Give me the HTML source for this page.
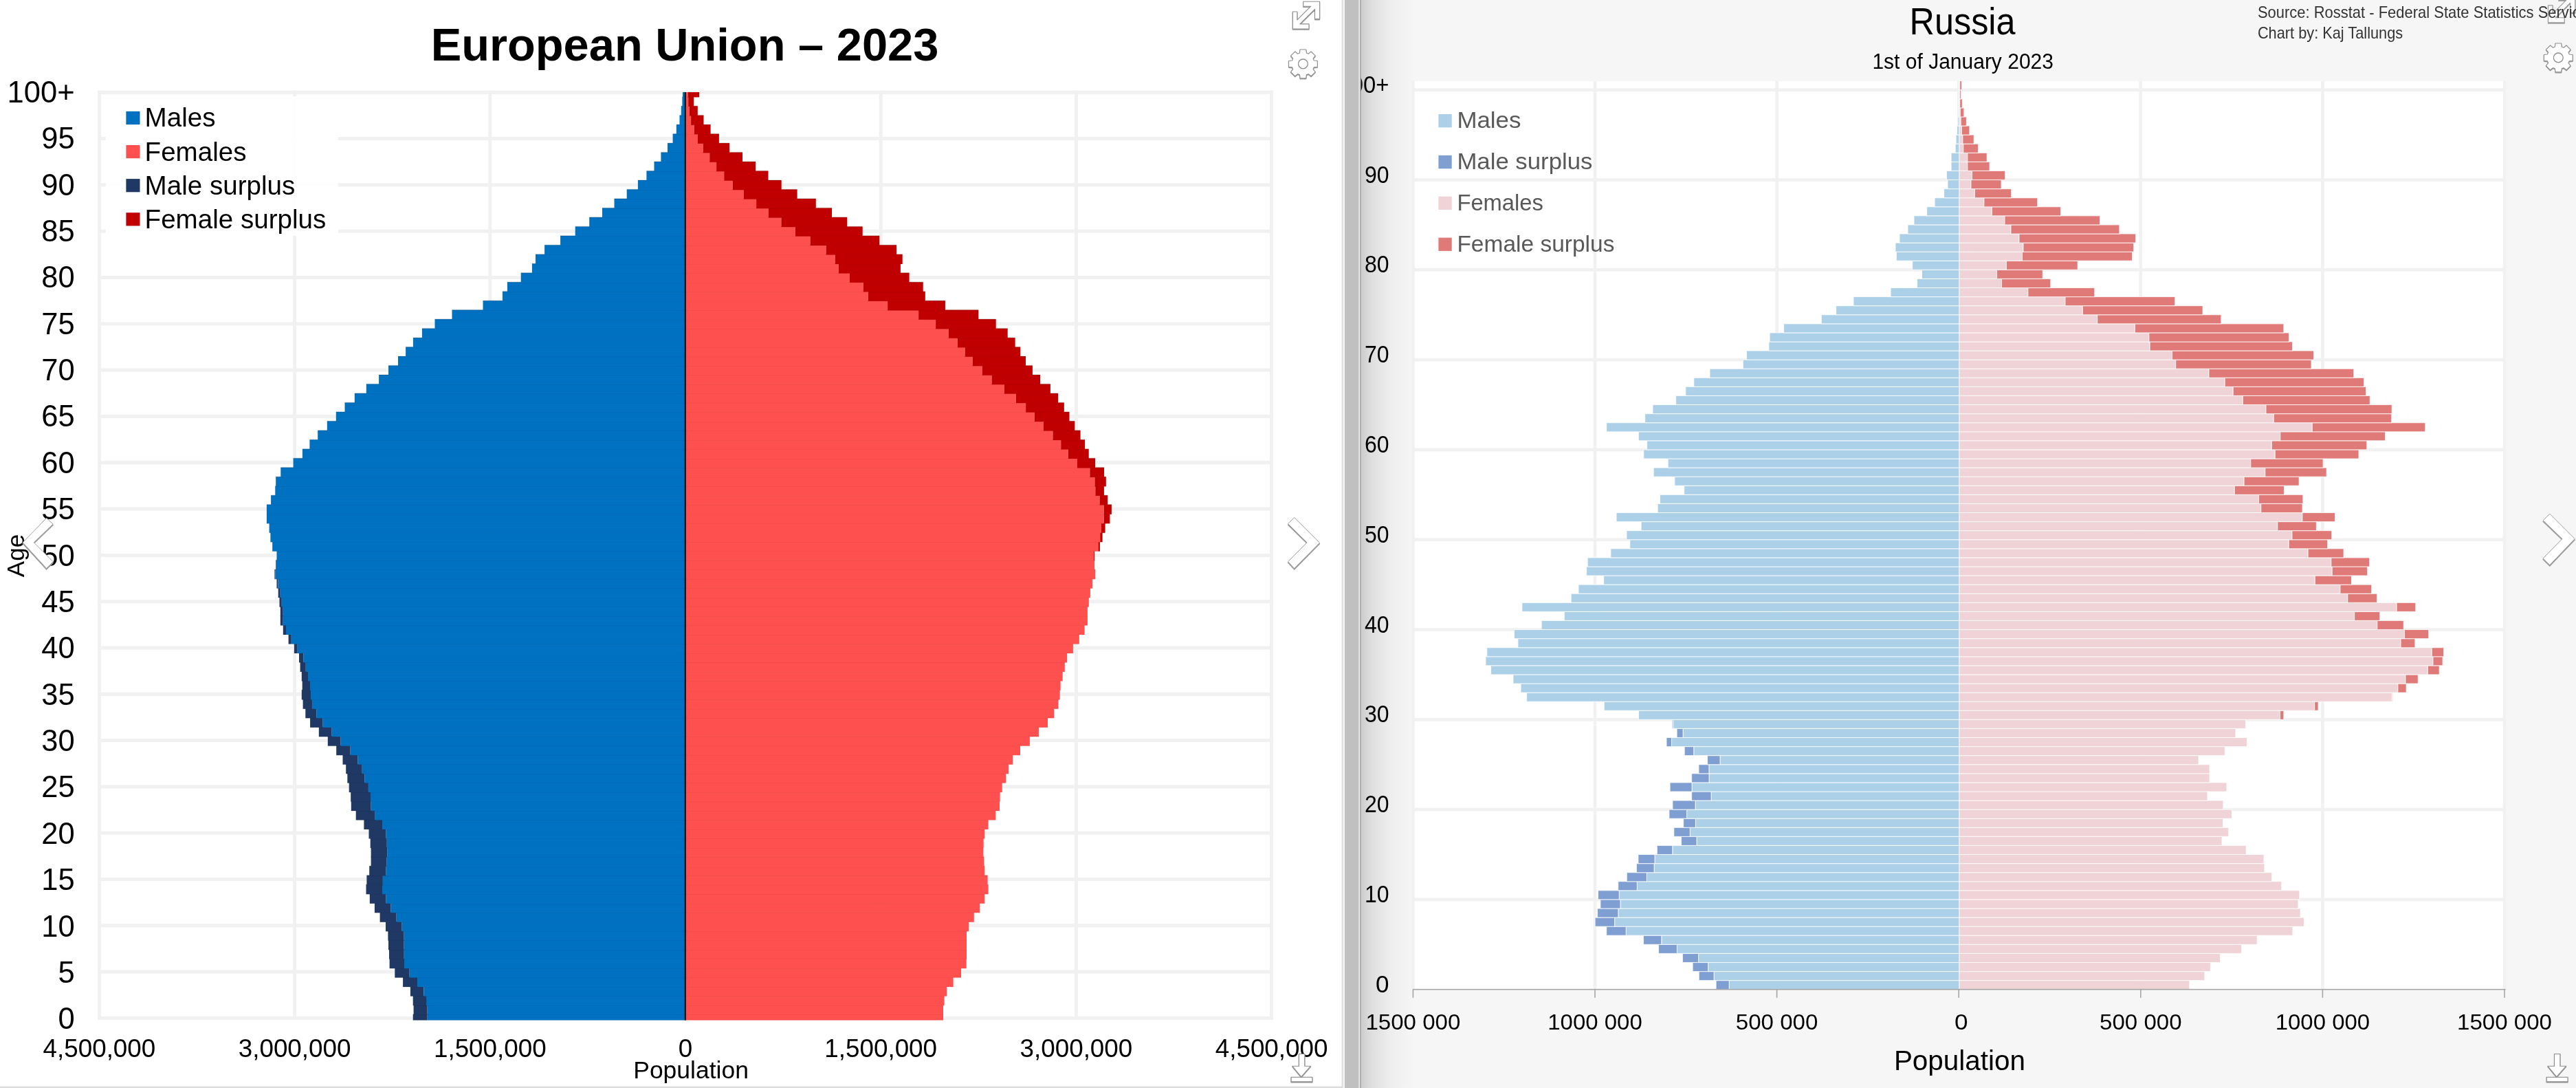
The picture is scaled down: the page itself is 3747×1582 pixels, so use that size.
<!DOCTYPE html>
<html><head><meta charset="utf-8"><style>
html,body{margin:0;padding:0;background:#fff;width:3747px;height:1582px;overflow:hidden}
svg{display:block;will-change:transform}
svg{fill:#000}
text{font-family:"Liberation Sans",sans-serif}
</style></head><body>
<svg width="3747" height="1582" viewBox="0 0 3747 1582"><defs><clipPath id="ruclip"><rect x="1978" y="0" width="1769" height="1582"/></clipPath><linearGradient id="shade" x1="0" x2="1" y1="0" y2="0"><stop offset="0" stop-color="#cbcbcb"/><stop offset="0.2" stop-color="#dedede"/><stop offset="0.55" stop-color="#eeeeee"/><stop offset="1" stop-color="#f6f6f6"/></linearGradient></defs><rect x="0" y="0" width="1953" height="1582" fill="#ffffff"/><rect x="141.9" y="1477.9" width="1710.2" height="5" fill="#f1f1f1"/><rect x="141.9" y="1410.6" width="1710.2" height="5" fill="#f1f1f1"/><rect x="141.9" y="1343.3" width="1710.2" height="5" fill="#f1f1f1"/><rect x="141.9" y="1276" width="1710.2" height="5" fill="#f1f1f1"/><rect x="141.9" y="1208.7" width="1710.2" height="5" fill="#f1f1f1"/><rect x="141.9" y="1141.4" width="1710.2" height="5" fill="#f1f1f1"/><rect x="141.9" y="1074.1" width="1710.2" height="5" fill="#f1f1f1"/><rect x="141.9" y="1006.8" width="1710.2" height="5" fill="#f1f1f1"/><rect x="141.9" y="939.5" width="1710.2" height="5" fill="#f1f1f1"/><rect x="141.9" y="872.2" width="1710.2" height="5" fill="#f1f1f1"/><rect x="141.9" y="804.9" width="1710.2" height="5" fill="#f1f1f1"/><rect x="141.9" y="737.5" width="1710.2" height="5" fill="#f1f1f1"/><rect x="141.9" y="670.2" width="1710.2" height="5" fill="#f1f1f1"/><rect x="141.9" y="602.9" width="1710.2" height="5" fill="#f1f1f1"/><rect x="141.9" y="535.6" width="1710.2" height="5" fill="#f1f1f1"/><rect x="141.9" y="468.3" width="1710.2" height="5" fill="#f1f1f1"/><rect x="141.9" y="401" width="1710.2" height="5" fill="#f1f1f1"/><rect x="141.9" y="333.7" width="1710.2" height="5" fill="#f1f1f1"/><rect x="141.9" y="266.4" width="1710.2" height="5" fill="#f1f1f1"/><rect x="141.9" y="199.1" width="1710.2" height="5" fill="#f1f1f1"/><rect x="141.9" y="131.8" width="1710.2" height="5" fill="#f1f1f1"/><rect x="141.9" y="131.5" width="5" height="1351" fill="#f1f1f1"/><rect x="426.1" y="131.5" width="5" height="1351" fill="#f1f1f1"/><rect x="710.3" y="131.5" width="5" height="1351" fill="#f1f1f1"/><rect x="994.5" y="131.5" width="5" height="1351" fill="#f1f1f1"/><rect x="1278.7" y="131.5" width="5" height="1351" fill="#f1f1f1"/><rect x="1562.9" y="131.5" width="5" height="1351" fill="#f1f1f1"/><rect x="1847.1" y="131.5" width="5" height="1351" fill="#f1f1f1"/><rect x="621.6" y="1474.8" width="375.2" height="8.7" fill="#0070c0"/><rect x="996.8" y="1474.8" width="375.2" height="8.7" fill="#ff5050"/><rect x="600.7" y="1474.8" width="20.9" height="8.7" fill="#1f3864"/><rect x="600.7" y="1473.9" width="771.4" height="2" fill="#000" opacity="0.11"/><rect x="621.6" y="1461.3" width="375.2" height="14.2" fill="#0070c0"/><rect x="996.8" y="1461.3" width="375.2" height="14.2" fill="#ff5050"/><rect x="601.6" y="1461.3" width="20" height="14.2" fill="#1f3864"/><rect x="601.6" y="1460.4" width="770.5" height="2" fill="#000" opacity="0.11"/><rect x="620" y="1447.9" width="376.8" height="14.2" fill="#0070c0"/><rect x="996.8" y="1447.9" width="376.8" height="14.2" fill="#ff5050"/><rect x="600.7" y="1447.9" width="19.4" height="14.2" fill="#1f3864"/><rect x="600.7" y="1446.9" width="772.9" height="2" fill="#000" opacity="0.11"/><rect x="616.4" y="1434.4" width="380.4" height="14.2" fill="#0070c0"/><rect x="996.8" y="1434.4" width="380.4" height="14.2" fill="#ff5050"/><rect x="596.9" y="1434.4" width="19.4" height="14.2" fill="#1f3864"/><rect x="596.9" y="1433.4" width="780.3" height="2" fill="#000" opacity="0.11"/><rect x="607" y="1420.9" width="389.8" height="14.2" fill="#0070c0"/><rect x="996.8" y="1420.9" width="389.8" height="14.2" fill="#ff5050"/><rect x="586.1" y="1420.9" width="20.9" height="14.2" fill="#1f3864"/><rect x="586.1" y="1420" width="800.5" height="2" fill="#000" opacity="0.11"/><rect x="595.6" y="1407.4" width="401.2" height="14.2" fill="#0070c0"/><rect x="996.8" y="1407.4" width="401.2" height="14.2" fill="#ff5050"/><rect x="574.3" y="1407.4" width="21.3" height="14.2" fill="#1f3864"/><rect x="574.3" y="1406.5" width="823.6" height="2" fill="#000" opacity="0.11"/><rect x="587.9" y="1394" width="408.9" height="14.2" fill="#0070c0"/><rect x="996.8" y="1394" width="408.9" height="14.2" fill="#ff5050"/><rect x="566.6" y="1394" width="21.4" height="14.2" fill="#1f3864"/><rect x="566.6" y="1393" width="839.1" height="2" fill="#000" opacity="0.11"/><rect x="587.6" y="1380.5" width="409.2" height="14.2" fill="#0070c0"/><rect x="996.8" y="1380.5" width="409.2" height="14.2" fill="#ff5050"/><rect x="566" y="1380.5" width="21.7" height="14.2" fill="#1f3864"/><rect x="566" y="1379.5" width="840" height="2" fill="#000" opacity="0.11"/><rect x="587.6" y="1367" width="409.2" height="14.2" fill="#0070c0"/><rect x="996.8" y="1367" width="409.2" height="14.2" fill="#ff5050"/><rect x="565" y="1367" width="22.6" height="14.2" fill="#1f3864"/><rect x="565" y="1366.1" width="840.9" height="2" fill="#000" opacity="0.11"/><rect x="587.6" y="1353.5" width="409.2" height="14.2" fill="#0070c0"/><rect x="996.8" y="1353.5" width="409.2" height="14.2" fill="#ff5050"/><rect x="564.4" y="1353.5" width="23.2" height="14.2" fill="#1f3864"/><rect x="564.4" y="1352.6" width="841.5" height="2" fill="#000" opacity="0.11"/><rect x="584.5" y="1340.1" width="412.3" height="14.2" fill="#0070c0"/><rect x="996.8" y="1340.1" width="412.3" height="14.2" fill="#ff5050"/><rect x="561" y="1340.1" width="23.5" height="14.2" fill="#1f3864"/><rect x="561" y="1339.1" width="848.1" height="2" fill="#000" opacity="0.11"/><rect x="576.8" y="1326.6" width="420" height="14.2" fill="#0070c0"/><rect x="996.8" y="1326.6" width="420" height="14.2" fill="#ff5050"/><rect x="552.6" y="1326.6" width="24.1" height="14.2" fill="#1f3864"/><rect x="552.6" y="1325.6" width="864.2" height="2" fill="#000" opacity="0.11"/><rect x="568.4" y="1313.1" width="428.4" height="14.2" fill="#0070c0"/><rect x="996.8" y="1313.1" width="428.4" height="14.2" fill="#ff5050"/><rect x="544.9" y="1313.1" width="23.5" height="14.2" fill="#1f3864"/><rect x="544.9" y="1312.2" width="880.3" height="2" fill="#000" opacity="0.11"/><rect x="561.3" y="1299.6" width="435.5" height="14.2" fill="#0070c0"/><rect x="996.8" y="1299.6" width="435.5" height="14.2" fill="#ff5050"/><rect x="537.8" y="1299.6" width="23.5" height="14.2" fill="#1f3864"/><rect x="537.8" y="1298.7" width="894.5" height="2" fill="#000" opacity="0.11"/><rect x="556" y="1286.1" width="440.8" height="14.2" fill="#0070c0"/><rect x="996.8" y="1286.1" width="440.8" height="14.2" fill="#ff5050"/><rect x="532.5" y="1286.1" width="23.5" height="14.2" fill="#1f3864"/><rect x="532.5" y="1285.2" width="905" height="2" fill="#000" opacity="0.11"/><rect x="557" y="1272.7" width="439.8" height="14.2" fill="#0070c0"/><rect x="996.8" y="1272.7" width="439.8" height="14.2" fill="#ff5050"/><rect x="533.4" y="1272.7" width="23.5" height="14.2" fill="#1f3864"/><rect x="533.4" y="1271.7" width="903.2" height="2" fill="#000" opacity="0.11"/><rect x="561.3" y="1259.2" width="435.5" height="14.2" fill="#0070c0"/><rect x="996.8" y="1259.2" width="435.5" height="14.2" fill="#ff5050"/><rect x="537.2" y="1259.2" width="24.1" height="14.2" fill="#1f3864"/><rect x="537.2" y="1258.2" width="895.1" height="2" fill="#000" opacity="0.11"/><rect x="562.2" y="1245.7" width="434.6" height="14.2" fill="#0070c0"/><rect x="996.8" y="1245.7" width="434.6" height="14.2" fill="#ff5050"/><rect x="539.6" y="1245.7" width="22.6" height="14.2" fill="#1f3864"/><rect x="539.6" y="1244.8" width="891.7" height="2" fill="#000" opacity="0.11"/><rect x="563.2" y="1232.2" width="433.6" height="14.2" fill="#0070c0"/><rect x="996.8" y="1232.2" width="433.6" height="14.2" fill="#ff5050"/><rect x="539.6" y="1232.2" width="23.5" height="14.2" fill="#1f3864"/><rect x="539.6" y="1231.3" width="890.8" height="2" fill="#000" opacity="0.11"/><rect x="562.9" y="1218.8" width="433.9" height="14.2" fill="#0070c0"/><rect x="996.8" y="1218.8" width="433.9" height="14.2" fill="#ff5050"/><rect x="538.7" y="1218.8" width="24.1" height="14.2" fill="#1f3864"/><rect x="538.7" y="1217.8" width="892" height="2" fill="#000" opacity="0.11"/><rect x="561.3" y="1205.3" width="435.5" height="14.2" fill="#0070c0"/><rect x="996.8" y="1205.3" width="435.5" height="14.2" fill="#ff5050"/><rect x="536.5" y="1205.3" width="24.8" height="14.2" fill="#1f3864"/><rect x="536.5" y="1204.3" width="895.7" height="2" fill="#000" opacity="0.11"/><rect x="556" y="1191.8" width="440.8" height="14.2" fill="#0070c0"/><rect x="996.8" y="1191.8" width="440.8" height="14.2" fill="#ff5050"/><rect x="529.4" y="1191.8" width="26.6" height="14.2" fill="#1f3864"/><rect x="529.4" y="1190.9" width="908.1" height="2" fill="#000" opacity="0.11"/><rect x="545.2" y="1178.3" width="451.6" height="14.2" fill="#0070c0"/><rect x="996.8" y="1178.3" width="451.6" height="14.2" fill="#ff5050"/><rect x="517.7" y="1178.3" width="27.6" height="14.2" fill="#1f3864"/><rect x="517.7" y="1177.4" width="930.7" height="2" fill="#000" opacity="0.11"/><rect x="539.6" y="1164.9" width="457.2" height="14.2" fill="#0070c0"/><rect x="996.8" y="1164.9" width="457.2" height="14.2" fill="#ff5050"/><rect x="510.8" y="1164.9" width="28.8" height="14.2" fill="#1f3864"/><rect x="510.8" y="1163.9" width="943.1" height="2" fill="#000" opacity="0.11"/><rect x="539" y="1151.4" width="457.8" height="14.2" fill="#0070c0"/><rect x="996.8" y="1151.4" width="457.8" height="14.2" fill="#ff5050"/><rect x="510.2" y="1151.4" width="28.8" height="14.2" fill="#1f3864"/><rect x="510.2" y="1150.4" width="944.4" height="2" fill="#000" opacity="0.11"/><rect x="535.9" y="1137.9" width="460.9" height="14.2" fill="#0070c0"/><rect x="996.8" y="1137.9" width="460.9" height="14.2" fill="#ff5050"/><rect x="507.7" y="1137.9" width="28.2" height="14.2" fill="#1f3864"/><rect x="507.7" y="1137" width="949.9" height="2" fill="#000" opacity="0.11"/><rect x="530.3" y="1124.4" width="466.5" height="14.2" fill="#0070c0"/><rect x="996.8" y="1124.4" width="466.5" height="14.2" fill="#ff5050"/><rect x="505.3" y="1124.4" width="25" height="14.2" fill="#1f3864"/><rect x="505.3" y="1123.5" width="957.9" height="2" fill="#000" opacity="0.11"/><rect x="526.6" y="1111" width="470.2" height="14.2" fill="#0070c0"/><rect x="996.8" y="1111" width="470.2" height="14.2" fill="#ff5050"/><rect x="503.2" y="1111" width="23.5" height="14.2" fill="#1f3864"/><rect x="503.2" y="1110" width="963.8" height="2" fill="#000" opacity="0.11"/><rect x="520.4" y="1097.5" width="476.4" height="14.2" fill="#0070c0"/><rect x="996.8" y="1097.5" width="476.4" height="14.2" fill="#ff5050"/><rect x="498.5" y="1097.5" width="21.9" height="14.2" fill="#1f3864"/><rect x="498.5" y="1096.5" width="974.6" height="2" fill="#000" opacity="0.11"/><rect x="509.6" y="1084" width="487.2" height="14.2" fill="#0070c0"/><rect x="996.8" y="1084" width="487.2" height="14.2" fill="#ff5050"/><rect x="489.2" y="1084" width="20.4" height="14.2" fill="#1f3864"/><rect x="489.2" y="1083.1" width="994.8" height="2" fill="#000" opacity="0.11"/><rect x="495.7" y="1070.5" width="501.1" height="14.2" fill="#0070c0"/><rect x="996.8" y="1070.5" width="501.1" height="14.2" fill="#ff5050"/><rect x="476.8" y="1070.5" width="18.8" height="14.2" fill="#1f3864"/><rect x="476.8" y="1069.6" width="1021.1" height="2" fill="#000" opacity="0.11"/><rect x="482.6" y="1057.1" width="514.2" height="14.2" fill="#0070c0"/><rect x="996.8" y="1057.1" width="514.2" height="14.2" fill="#ff5050"/><rect x="463.8" y="1057.1" width="18.8" height="14.2" fill="#1f3864"/><rect x="463.8" y="1056.1" width="1047.2" height="2" fill="#000" opacity="0.11"/><rect x="469.6" y="1043.6" width="527.2" height="14.2" fill="#0070c0"/><rect x="996.8" y="1043.6" width="527.2" height="14.2" fill="#ff5050"/><rect x="451.1" y="1043.6" width="18.5" height="14.2" fill="#1f3864"/><rect x="451.1" y="1042.6" width="1072.9" height="2" fill="#000" opacity="0.11"/><rect x="460.3" y="1030.1" width="536.5" height="14.2" fill="#0070c0"/><rect x="996.8" y="1030.1" width="536.5" height="14.2" fill="#ff5050"/><rect x="444.3" y="1030.1" width="16" height="14.2" fill="#1f3864"/><rect x="444.3" y="1029.2" width="1089" height="2" fill="#000" opacity="0.11"/><rect x="454.1" y="1016.6" width="542.7" height="14.2" fill="#0070c0"/><rect x="996.8" y="1016.6" width="542.7" height="14.2" fill="#ff5050"/><rect x="440.6" y="1016.6" width="13.5" height="14.2" fill="#1f3864"/><rect x="440.6" y="1015.7" width="1098.9" height="2" fill="#000" opacity="0.11"/><rect x="451.9" y="1003.2" width="544.9" height="14.2" fill="#0070c0"/><rect x="996.8" y="1003.2" width="544.9" height="14.2" fill="#ff5050"/><rect x="438.8" y="1003.2" width="13.2" height="14.2" fill="#1f3864"/><rect x="438.8" y="1002.2" width="1102.9" height="2" fill="#000" opacity="0.11"/><rect x="451" y="989.7" width="545.8" height="14.2" fill="#0070c0"/><rect x="996.8" y="989.7" width="545.8" height="14.2" fill="#ff5050"/><rect x="439.7" y="989.7" width="11.3" height="14.2" fill="#1f3864"/><rect x="439.7" y="988.7" width="1102.9" height="2" fill="#000" opacity="0.11"/><rect x="447.9" y="976.2" width="548.9" height="14.2" fill="#0070c0"/><rect x="996.8" y="976.2" width="548.9" height="14.2" fill="#ff5050"/><rect x="438.8" y="976.2" width="9.2" height="14.2" fill="#1f3864"/><rect x="438.8" y="975.2" width="1106.9" height="2" fill="#000" opacity="0.11"/><rect x="444.8" y="962.7" width="552" height="14.2" fill="#0070c0"/><rect x="996.8" y="962.7" width="552" height="14.2" fill="#ff5050"/><rect x="436.6" y="962.7" width="8.2" height="14.2" fill="#1f3864"/><rect x="436.6" y="961.8" width="1112.2" height="2" fill="#000" opacity="0.11"/><rect x="441.4" y="949.2" width="555.4" height="14.2" fill="#0070c0"/><rect x="996.8" y="949.2" width="555.4" height="14.2" fill="#ff5050"/><rect x="435" y="949.2" width="6.4" height="14.2" fill="#1f3864"/><rect x="435" y="948.3" width="1117.2" height="2" fill="#000" opacity="0.11"/><rect x="432.7" y="935.8" width="564.1" height="14.2" fill="#0070c0"/><rect x="996.8" y="935.8" width="564.1" height="14.2" fill="#ff5050"/><rect x="427.9" y="935.8" width="4.8" height="14.2" fill="#1f3864"/><rect x="427.9" y="934.8" width="1132.9" height="2" fill="#000" opacity="0.11"/><rect x="423.8" y="922.3" width="573" height="14.2" fill="#0070c0"/><rect x="996.8" y="922.3" width="573" height="14.2" fill="#ff5050"/><rect x="419.6" y="922.3" width="4.2" height="14.2" fill="#1f3864"/><rect x="419.6" y="921.3" width="1150.3" height="2" fill="#000" opacity="0.11"/><rect x="416" y="908.8" width="580.8" height="14.2" fill="#0070c0"/><rect x="996.8" y="908.8" width="580.8" height="14.2" fill="#ff5050"/><rect x="411.8" y="908.8" width="4.2" height="14.2" fill="#1f3864"/><rect x="411.8" y="907.9" width="1165.8" height="2" fill="#000" opacity="0.11"/><rect x="411.7" y="895.3" width="585.1" height="14.2" fill="#0070c0"/><rect x="996.8" y="895.3" width="585.1" height="14.2" fill="#ff5050"/><rect x="407.8" y="895.3" width="3.9" height="14.2" fill="#1f3864"/><rect x="407.8" y="894.4" width="1174.1" height="2" fill="#000" opacity="0.11"/><rect x="411.7" y="881.9" width="585.1" height="14.2" fill="#0070c0"/><rect x="996.8" y="881.9" width="585.1" height="14.2" fill="#ff5050"/><rect x="407.8" y="881.9" width="3.9" height="14.2" fill="#1f3864"/><rect x="407.8" y="880.9" width="1174.1" height="2" fill="#000" opacity="0.11"/><rect x="409.8" y="868.4" width="587" height="14.2" fill="#0070c0"/><rect x="996.8" y="868.4" width="587" height="14.2" fill="#ff5050"/><rect x="406.5" y="868.4" width="3.3" height="14.2" fill="#1f3864"/><rect x="406.5" y="867.4" width="1177.2" height="2" fill="#000" opacity="0.11"/><rect x="407.7" y="854.9" width="589.1" height="14.2" fill="#0070c0"/><rect x="996.8" y="854.9" width="589.1" height="14.2" fill="#ff5050"/><rect x="404.7" y="854.9" width="3" height="14.2" fill="#1f3864"/><rect x="404.7" y="854" width="1181.3" height="2" fill="#000" opacity="0.11"/><rect x="404.6" y="841.4" width="592.2" height="14.2" fill="#0070c0"/><rect x="996.8" y="841.4" width="592.2" height="14.2" fill="#ff5050"/><rect x="402.5" y="841.4" width="2" height="14.2" fill="#1f3864"/><rect x="402.5" y="840.5" width="1186.5" height="2" fill="#000" opacity="0.11"/><rect x="400.5" y="828" width="596.3" height="14.2" fill="#0070c0"/><rect x="996.8" y="828" width="596.3" height="14.2" fill="#ff5050"/><rect x="399.4" y="828" width="1.1" height="14.2" fill="#1f3864"/><rect x="399.4" y="827" width="1193.6" height="2" fill="#000" opacity="0.11"/><rect x="401.5" y="814.5" width="595.3" height="14.2" fill="#0070c0"/><rect x="996.8" y="814.5" width="595.3" height="14.2" fill="#ff5050"/><rect x="401" y="814.5" width="0.5" height="14.2" fill="#1f3864"/><rect x="401" y="813.5" width="1191.2" height="2" fill="#000" opacity="0.11"/><rect x="402.5" y="801" width="594.3" height="14.2" fill="#0070c0"/><rect x="996.8" y="801" width="594.3" height="14.2" fill="#ff5050"/><rect x="1591.1" y="801" width="1.1" height="14.2" fill="#c00000"/><rect x="402.5" y="800.1" width="1189.6" height="2" fill="#000" opacity="0.11"/><rect x="396.2" y="787.5" width="600.6" height="14.2" fill="#0070c0"/><rect x="996.8" y="787.5" width="600.6" height="14.2" fill="#ff5050"/><rect x="1597.4" y="787.5" width="2.5" height="14.2" fill="#c00000"/><rect x="396.2" y="786.6" width="1203.6" height="2" fill="#000" opacity="0.11"/><rect x="393.4" y="774.1" width="603.4" height="14.2" fill="#0070c0"/><rect x="996.8" y="774.1" width="603.4" height="14.2" fill="#ff5050"/><rect x="1600.2" y="774.1" width="3.4" height="14.2" fill="#c00000"/><rect x="393.4" y="773.1" width="1210.2" height="2" fill="#000" opacity="0.11"/><rect x="391.6" y="760.6" width="605.2" height="14.2" fill="#0070c0"/><rect x="996.8" y="760.6" width="605.2" height="14.2" fill="#ff5050"/><rect x="1602" y="760.6" width="5.6" height="14.2" fill="#c00000"/><rect x="391.6" y="759.6" width="1216" height="2" fill="#000" opacity="0.11"/><rect x="387.9" y="747.1" width="608.9" height="14.2" fill="#0070c0"/><rect x="996.8" y="747.1" width="608.9" height="14.2" fill="#ff5050"/><rect x="1605.7" y="747.1" width="8.7" height="14.2" fill="#c00000"/><rect x="387.9" y="746.2" width="1226.6" height="2" fill="#000" opacity="0.11"/><rect x="387.9" y="733.6" width="608.9" height="14.2" fill="#0070c0"/><rect x="996.8" y="733.6" width="608.9" height="14.2" fill="#ff5050"/><rect x="1605.7" y="733.6" width="11.2" height="14.2" fill="#c00000"/><rect x="387.9" y="732.7" width="1229" height="2" fill="#000" opacity="0.11"/><rect x="394.1" y="720.2" width="602.7" height="14.2" fill="#0070c0"/><rect x="996.8" y="720.2" width="602.7" height="14.2" fill="#ff5050"/><rect x="1599.5" y="720.2" width="11.7" height="14.2" fill="#c00000"/><rect x="394.1" y="719.2" width="1217.2" height="2" fill="#000" opacity="0.11"/><rect x="400.3" y="706.7" width="596.5" height="14.2" fill="#0070c0"/><rect x="996.8" y="706.7" width="596.5" height="14.2" fill="#ff5050"/><rect x="1593.3" y="706.7" width="12.6" height="14.2" fill="#c00000"/><rect x="400.3" y="705.7" width="1205.7" height="2" fill="#000" opacity="0.11"/><rect x="401.2" y="693.2" width="595.6" height="14.2" fill="#0070c0"/><rect x="996.8" y="693.2" width="595.6" height="14.2" fill="#ff5050"/><rect x="1592.4" y="693.2" width="16.4" height="14.2" fill="#c00000"/><rect x="401.2" y="692.3" width="1207.6" height="2" fill="#000" opacity="0.11"/><rect x="408.3" y="679.7" width="588.5" height="14.2" fill="#0070c0"/><rect x="996.8" y="679.7" width="588.5" height="14.2" fill="#ff5050"/><rect x="1585.3" y="679.7" width="20.7" height="14.2" fill="#c00000"/><rect x="408.3" y="678.8" width="1197.7" height="2" fill="#000" opacity="0.11"/><rect x="426.6" y="666.3" width="570.2" height="14.2" fill="#0070c0"/><rect x="996.8" y="666.3" width="570.2" height="14.2" fill="#ff5050"/><rect x="1567" y="666.3" width="26" height="14.2" fill="#c00000"/><rect x="426.6" y="665.3" width="1166.4" height="2" fill="#000" opacity="0.11"/><rect x="439.9" y="652.8" width="556.9" height="14.2" fill="#0070c0"/><rect x="996.8" y="652.8" width="556.9" height="14.2" fill="#ff5050"/><rect x="1553.7" y="652.8" width="30" height="14.2" fill="#c00000"/><rect x="439.9" y="651.8" width="1143.8" height="2" fill="#000" opacity="0.11"/><rect x="450.4" y="639.3" width="546.4" height="14.2" fill="#0070c0"/><rect x="996.8" y="639.3" width="546.4" height="14.2" fill="#ff5050"/><rect x="1543.2" y="639.3" width="34.9" height="14.2" fill="#c00000"/><rect x="450.4" y="638.4" width="1127.7" height="2" fill="#000" opacity="0.11"/><rect x="462.2" y="625.8" width="534.6" height="14.2" fill="#0070c0"/><rect x="996.8" y="625.8" width="534.6" height="14.2" fill="#ff5050"/><rect x="1531.4" y="625.8" width="40.2" height="14.2" fill="#c00000"/><rect x="462.2" y="624.9" width="1109.4" height="2" fill="#000" opacity="0.11"/><rect x="475.8" y="612.3" width="521" height="14.2" fill="#0070c0"/><rect x="996.8" y="612.3" width="521" height="14.2" fill="#ff5050"/><rect x="1517.8" y="612.3" width="45.5" height="14.2" fill="#c00000"/><rect x="475.8" y="611.4" width="1087.4" height="2" fill="#000" opacity="0.11"/><rect x="488.8" y="598.9" width="508" height="14.2" fill="#0070c0"/><rect x="996.8" y="598.9" width="508" height="14.2" fill="#ff5050"/><rect x="1504.8" y="598.9" width="50.7" height="14.2" fill="#c00000"/><rect x="488.8" y="597.9" width="1066.7" height="2" fill="#000" opacity="0.11"/><rect x="501.5" y="585.4" width="495.3" height="14.2" fill="#0070c0"/><rect x="996.8" y="585.4" width="495.3" height="14.2" fill="#ff5050"/><rect x="1492.1" y="585.4" width="55.7" height="14.2" fill="#c00000"/><rect x="501.5" y="584.4" width="1046.2" height="2" fill="#000" opacity="0.11"/><rect x="515.8" y="571.9" width="481" height="14.2" fill="#0070c0"/><rect x="996.8" y="571.9" width="481" height="14.2" fill="#ff5050"/><rect x="1477.8" y="571.9" width="61.3" height="14.2" fill="#c00000"/><rect x="515.8" y="571" width="1023.3" height="2" fill="#000" opacity="0.11"/><rect x="532.8" y="558.4" width="464" height="14.2" fill="#0070c0"/><rect x="996.8" y="558.4" width="464" height="14.2" fill="#ff5050"/><rect x="1460.8" y="558.4" width="67.1" height="14.2" fill="#c00000"/><rect x="532.8" y="557.5" width="995.1" height="2" fill="#000" opacity="0.11"/><rect x="551.1" y="545" width="445.7" height="14.2" fill="#0070c0"/><rect x="996.8" y="545" width="445.7" height="14.2" fill="#ff5050"/><rect x="1442.5" y="545" width="70.5" height="14.2" fill="#c00000"/><rect x="551.1" y="544" width="962" height="2" fill="#000" opacity="0.11"/><rect x="565" y="531.5" width="431.8" height="14.2" fill="#0070c0"/><rect x="996.8" y="531.5" width="431.8" height="14.2" fill="#ff5050"/><rect x="1428.6" y="531.5" width="73.3" height="14.2" fill="#c00000"/><rect x="565" y="530.5" width="936.9" height="2" fill="#000" opacity="0.11"/><rect x="579" y="518" width="417.8" height="14.2" fill="#0070c0"/><rect x="996.8" y="518" width="417.8" height="14.2" fill="#ff5050"/><rect x="1414.6" y="518" width="77.4" height="14.2" fill="#c00000"/><rect x="579" y="517.1" width="913.1" height="2" fill="#000" opacity="0.11"/><rect x="590.1" y="504.5" width="406.7" height="14.2" fill="#0070c0"/><rect x="996.8" y="504.5" width="406.7" height="14.2" fill="#ff5050"/><rect x="1403.5" y="504.5" width="80.8" height="14.2" fill="#c00000"/><rect x="590.1" y="503.6" width="894.2" height="2" fill="#000" opacity="0.11"/><rect x="600.9" y="491.1" width="395.9" height="14.2" fill="#0070c0"/><rect x="996.8" y="491.1" width="395.9" height="14.2" fill="#ff5050"/><rect x="1392.7" y="491.1" width="83.9" height="14.2" fill="#c00000"/><rect x="600.9" y="490.1" width="875.6" height="2" fill="#000" opacity="0.11"/><rect x="613.9" y="477.6" width="382.9" height="14.2" fill="#0070c0"/><rect x="996.8" y="477.6" width="382.9" height="14.2" fill="#ff5050"/><rect x="1379.7" y="477.6" width="86" height="14.2" fill="#c00000"/><rect x="613.9" y="476.6" width="851.7" height="2" fill="#000" opacity="0.11"/><rect x="632.5" y="464.1" width="364.3" height="14.2" fill="#0070c0"/><rect x="996.8" y="464.1" width="364.3" height="14.2" fill="#ff5050"/><rect x="1361.1" y="464.1" width="87.6" height="14.2" fill="#c00000"/><rect x="632.5" y="463.2" width="816.1" height="2" fill="#000" opacity="0.11"/><rect x="657.5" y="450.6" width="339.3" height="14.2" fill="#0070c0"/><rect x="996.8" y="450.6" width="339.3" height="14.2" fill="#ff5050"/><rect x="1336.1" y="450.6" width="87.2" height="14.2" fill="#c00000"/><rect x="657.5" y="449.7" width="765.7" height="2" fill="#000" opacity="0.11"/><rect x="702.5" y="437.2" width="294.3" height="14.2" fill="#0070c0"/><rect x="996.8" y="437.2" width="294.3" height="14.2" fill="#ff5050"/><rect x="1291.1" y="437.2" width="83.8" height="14.2" fill="#c00000"/><rect x="702.5" y="436.2" width="672.4" height="2" fill="#000" opacity="0.11"/><rect x="730.9" y="423.7" width="265.9" height="14.2" fill="#0070c0"/><rect x="996.8" y="423.7" width="265.9" height="14.2" fill="#ff5050"/><rect x="1262.7" y="423.7" width="83.1" height="14.2" fill="#c00000"/><rect x="730.9" y="422.7" width="615" height="2" fill="#000" opacity="0.11"/><rect x="737.9" y="410.2" width="258.9" height="14.2" fill="#0070c0"/><rect x="996.8" y="410.2" width="258.9" height="14.2" fill="#ff5050"/><rect x="1255.7" y="410.2" width="87" height="14.2" fill="#c00000"/><rect x="737.9" y="409.3" width="604.8" height="2" fill="#000" opacity="0.11"/><rect x="757.7" y="396.7" width="239.1" height="14.2" fill="#0070c0"/><rect x="996.8" y="396.7" width="239.1" height="14.2" fill="#ff5050"/><rect x="1235.9" y="396.7" width="86.7" height="14.2" fill="#c00000"/><rect x="757.7" y="395.8" width="564.9" height="2" fill="#000" opacity="0.11"/><rect x="773.9" y="383.3" width="222.9" height="14.2" fill="#0070c0"/><rect x="996.8" y="383.3" width="222.9" height="14.2" fill="#ff5050"/><rect x="1219.7" y="383.3" width="90.2" height="14.2" fill="#c00000"/><rect x="773.9" y="382.3" width="535.9" height="2" fill="#000" opacity="0.11"/><rect x="779" y="369.8" width="217.8" height="14.2" fill="#0070c0"/><rect x="996.8" y="369.8" width="217.8" height="14.2" fill="#ff5050"/><rect x="1214.6" y="369.8" width="98.1" height="14.2" fill="#c00000"/><rect x="779" y="368.8" width="533.7" height="2" fill="#000" opacity="0.11"/><rect x="792.1" y="356.3" width="204.7" height="14.2" fill="#0070c0"/><rect x="996.8" y="356.3" width="204.7" height="14.2" fill="#ff5050"/><rect x="1201.5" y="356.3" width="102.6" height="14.2" fill="#c00000"/><rect x="792.1" y="355.4" width="512" height="2" fill="#000" opacity="0.11"/><rect x="815.1" y="342.8" width="181.7" height="14.2" fill="#0070c0"/><rect x="996.8" y="342.8" width="181.7" height="14.2" fill="#ff5050"/><rect x="1178.5" y="342.8" width="100.7" height="14.2" fill="#c00000"/><rect x="815.1" y="341.9" width="464.2" height="2" fill="#000" opacity="0.11"/><rect x="836.7" y="329.4" width="160.1" height="14.2" fill="#0070c0"/><rect x="996.8" y="329.4" width="160.1" height="14.2" fill="#ff5050"/><rect x="1156.9" y="329.4" width="97.8" height="14.2" fill="#c00000"/><rect x="836.7" y="328.4" width="417.9" height="2" fill="#000" opacity="0.11"/><rect x="857.2" y="315.9" width="139.6" height="14.2" fill="#0070c0"/><rect x="996.8" y="315.9" width="139.6" height="14.2" fill="#ff5050"/><rect x="1136.4" y="315.9" width="95.9" height="14.2" fill="#c00000"/><rect x="857.2" y="314.9" width="375.2" height="2" fill="#000" opacity="0.11"/><rect x="876" y="302.4" width="120.8" height="14.2" fill="#0070c0"/><rect x="996.8" y="302.4" width="120.8" height="14.2" fill="#ff5050"/><rect x="1117.6" y="302.4" width="92.4" height="14.2" fill="#c00000"/><rect x="876" y="301.5" width="334.1" height="2" fill="#000" opacity="0.11"/><rect x="893.5" y="288.9" width="103.3" height="14.2" fill="#0070c0"/><rect x="996.8" y="288.9" width="103.3" height="14.2" fill="#ff5050"/><rect x="1100.1" y="288.9" width="86.7" height="14.2" fill="#c00000"/><rect x="893.5" y="288" width="293.2" height="2" fill="#000" opacity="0.11"/><rect x="911.7" y="275.4" width="85.1" height="14.2" fill="#0070c0"/><rect x="996.8" y="275.4" width="85.1" height="14.2" fill="#ff5050"/><rect x="1081.9" y="275.4" width="77.7" height="14.2" fill="#c00000"/><rect x="911.7" y="274.5" width="248" height="2" fill="#000" opacity="0.11"/><rect x="927.9" y="262" width="68.9" height="14.2" fill="#0070c0"/><rect x="996.8" y="262" width="68.9" height="14.2" fill="#ff5050"/><rect x="1065.7" y="262" width="71" height="14.2" fill="#c00000"/><rect x="927.9" y="261" width="208.7" height="2" fill="#000" opacity="0.11"/><rect x="940.4" y="248.5" width="56.4" height="14.2" fill="#0070c0"/><rect x="996.8" y="248.5" width="56.4" height="14.2" fill="#ff5050"/><rect x="1053.2" y="248.5" width="64.3" height="14.2" fill="#c00000"/><rect x="940.4" y="247.5" width="177.2" height="2" fill="#000" opacity="0.11"/><rect x="951.5" y="235" width="45.3" height="14.2" fill="#0070c0"/><rect x="996.8" y="235" width="45.3" height="14.2" fill="#ff5050"/><rect x="1042.1" y="235" width="57" height="14.2" fill="#c00000"/><rect x="951.5" y="234.1" width="147.5" height="2" fill="#000" opacity="0.11"/><rect x="961.4" y="221.5" width="35.4" height="14.2" fill="#0070c0"/><rect x="996.8" y="221.5" width="35.4" height="14.2" fill="#ff5050"/><rect x="1032.2" y="221.5" width="47.8" height="14.2" fill="#c00000"/><rect x="961.4" y="220.6" width="118.5" height="2" fill="#000" opacity="0.11"/><rect x="971" y="208.1" width="25.8" height="14.2" fill="#0070c0"/><rect x="996.8" y="208.1" width="25.8" height="14.2" fill="#ff5050"/><rect x="1022.6" y="208.1" width="38.5" height="14.2" fill="#c00000"/><rect x="971" y="207.1" width="90.1" height="2" fill="#000" opacity="0.11"/><rect x="978.6" y="194.6" width="18.2" height="14.2" fill="#0070c0"/><rect x="996.8" y="194.6" width="18.2" height="14.2" fill="#ff5050"/><rect x="1015" y="194.6" width="30.9" height="14.2" fill="#c00000"/><rect x="978.6" y="193.6" width="67.2" height="2" fill="#000" opacity="0.11"/><rect x="983.8" y="181.1" width="13" height="14.2" fill="#0070c0"/><rect x="996.8" y="181.1" width="13" height="14.2" fill="#ff5050"/><rect x="1009.8" y="181.1" width="23.8" height="14.2" fill="#c00000"/><rect x="983.8" y="180.2" width="49.9" height="2" fill="#000" opacity="0.11"/><rect x="988.5" y="167.6" width="8.3" height="14.2" fill="#0070c0"/><rect x="996.8" y="167.6" width="8.3" height="14.2" fill="#ff5050"/><rect x="1005.1" y="167.6" width="18.4" height="14.2" fill="#c00000"/><rect x="988.5" y="166.7" width="34.9" height="2" fill="#000" opacity="0.11"/><rect x="990.8" y="154.2" width="6" height="14.2" fill="#0070c0"/><rect x="996.8" y="154.2" width="6" height="14.2" fill="#ff5050"/><rect x="1002.8" y="154.2" width="12" height="14.2" fill="#c00000"/><rect x="990.8" y="153.2" width="24.1" height="2" fill="#000" opacity="0.11"/><rect x="992.4" y="140.7" width="4.4" height="14.2" fill="#0070c0"/><rect x="996.8" y="140.7" width="4.4" height="14.2" fill="#ff5050"/><rect x="1001.2" y="140.7" width="7.9" height="14.2" fill="#c00000"/><rect x="992.4" y="139.7" width="16.8" height="2" fill="#000" opacity="0.11"/><rect x="993" y="134" width="3.8" height="7.4" fill="#0070c0"/><rect x="996.8" y="134" width="3.8" height="7.4" fill="#ff5050"/><rect x="1000.6" y="134" width="16.5" height="7.4" fill="#c00000"/><rect x="995.7" y="134" width="2.2" height="1349.5" fill="#111"/><rect x="153.8" y="140" width="338" height="202.8" fill="#fff" opacity="0.88"/><rect x="183.4" y="161.9" width="20.1" height="19.2" fill="#0070c0"/><text x="210.6" y="184.4" font-size="38.6">Males</text><rect x="183.4" y="211" width="20.1" height="19.2" fill="#ff5050"/><text x="210.6" y="233.5" font-size="38.6">Females</text><rect x="183.4" y="260.1" width="20.1" height="19.2" fill="#1f3864"/><text x="210.6" y="282.6" font-size="38.6">Male surplus</text><rect x="183.4" y="309.2" width="20.1" height="19.2" fill="#c00000"/><text x="210.6" y="331.7" font-size="38.6">Female surplus</text><text x="108.6" y="1496.3" font-size="43.5" text-anchor="end">0</text><text x="108.6" y="1428.9" font-size="43.5" text-anchor="end">5</text><text x="108.6" y="1361.5" font-size="43.5" text-anchor="end">10</text><text x="108.6" y="1294.2" font-size="43.5" text-anchor="end">15</text><text x="108.6" y="1226.8" font-size="43.5" text-anchor="end">20</text><text x="108.6" y="1159.4" font-size="43.5" text-anchor="end">25</text><text x="108.6" y="1092" font-size="43.5" text-anchor="end">30</text><text x="108.6" y="1024.6" font-size="43.5" text-anchor="end">35</text><text x="108.6" y="957.3" font-size="43.5" text-anchor="end">40</text><text x="108.6" y="889.9" font-size="43.5" text-anchor="end">45</text><text x="108.6" y="822.5" font-size="43.5" text-anchor="end">50</text><text x="108.6" y="755.1" font-size="43.5" text-anchor="end">55</text><text x="108.6" y="687.7" font-size="43.5" text-anchor="end">60</text><text x="108.6" y="620.4" font-size="43.5" text-anchor="end">65</text><text x="108.6" y="553" font-size="43.5" text-anchor="end">70</text><text x="108.6" y="485.6" font-size="43.5" text-anchor="end">75</text><text x="108.6" y="418.2" font-size="43.5" text-anchor="end">80</text><text x="108.6" y="350.8" font-size="43.5" text-anchor="end">85</text><text x="108.6" y="283.5" font-size="43.5" text-anchor="end">90</text><text x="108.6" y="216.1" font-size="43.5" text-anchor="end">95</text><text x="108.6" y="148.7" font-size="43.5" text-anchor="end">100+</text><text x="144.4" y="1537" font-size="36.8" text-anchor="middle">4,500,000</text><text x="428.6" y="1537" font-size="36.8" text-anchor="middle">3,000,000</text><text x="712.8" y="1537" font-size="36.8" text-anchor="middle">1,500,000</text><text x="997" y="1537" font-size="36.8" text-anchor="middle">0</text><text x="1281.2" y="1537" font-size="36.8" text-anchor="middle">1,500,000</text><text x="1565.4" y="1537" font-size="36.8" text-anchor="middle">3,000,000</text><text x="1849.6" y="1537" font-size="36.8" text-anchor="middle">4,500,000</text><text x="1005.1" y="1568.2" font-size="35.5" text-anchor="middle">Population</text><text transform="translate(34.9,808) rotate(-90)" font-size="35" text-anchor="middle">Age</text><text x="996" y="87.6" font-size="66.8" font-weight="bold" text-anchor="middle">European Union – 2023</text><rect x="0" y="1579" width="1953" height="1.2" fill="#efefef"/><rect x="0" y="1580.2" width="1953" height="1.8" fill="#d9d9d9"/><g clip-path="url(#ruclip)"><rect x="1978.7" y="0" width="1768.3" height="1582" fill="#f6f6f6"/><rect x="1978.7" y="0" width="78.6" height="1582" fill="url(#shade)"/><rect x="2057.3" y="117.8" width="1585.2" height="1320.9" fill="#ffffff"/><rect x="2055.4" y="1305.6" width="1589.1" height="4.6" fill="#f1f1f1"/><rect x="2055.4" y="1174.8" width="1589.1" height="4.6" fill="#f1f1f1"/><rect x="2055.4" y="1044" width="1589.1" height="4.6" fill="#f1f1f1"/><rect x="2055.4" y="913.2" width="1589.1" height="4.6" fill="#f1f1f1"/><rect x="2055.4" y="782.4" width="1589.1" height="4.6" fill="#f1f1f1"/><rect x="2055.4" y="651.6" width="1589.1" height="4.6" fill="#f1f1f1"/><rect x="2055.4" y="520.8" width="1589.1" height="4.6" fill="#f1f1f1"/><rect x="2055.4" y="390" width="1589.1" height="4.6" fill="#f1f1f1"/><rect x="2055.4" y="259.2" width="1589.1" height="4.6" fill="#f1f1f1"/><rect x="2055.4" y="128.4" width="1589.1" height="4.6" fill="#f1f1f1"/><rect x="2053.1" y="117.8" width="4.6" height="1320.9" fill="#f1f1f1"/><rect x="2317.7" y="117.8" width="4.6" height="1320.9" fill="#f1f1f1"/><rect x="2582.3" y="117.8" width="4.6" height="1320.9" fill="#f1f1f1"/><rect x="2846.9" y="117.8" width="4.6" height="1320.9" fill="#f1f1f1"/><rect x="3111.5" y="117.8" width="4.6" height="1320.9" fill="#f1f1f1"/><rect x="3376.1" y="117.8" width="4.6" height="1320.9" fill="#f1f1f1"/><rect x="3640.7" y="117.8" width="4.6" height="1320.9" fill="#f1f1f1"/><rect x="2515.2" y="1425.6" width="334.8" height="13.1" fill="#abd0e8" stroke="#fff" stroke-opacity="0.75" stroke-width="1.1"/><rect x="2850" y="1425.6" width="334.8" height="13.1" fill="#efd3d6" stroke="#fff" stroke-opacity="0.75" stroke-width="1.1"/><rect x="2496.1" y="1425.6" width="19.1" height="13.1" fill="#7f9fd3" stroke="#fff" stroke-opacity="0.75" stroke-width="1.1"/><rect x="2493.2" y="1412.5" width="356.8" height="13.1" fill="#abd0e8" stroke="#fff" stroke-opacity="0.75" stroke-width="1.1"/><rect x="2850" y="1412.5" width="356.8" height="13.1" fill="#efd3d6" stroke="#fff" stroke-opacity="0.75" stroke-width="1.1"/><rect x="2471.2" y="1412.5" width="21.9" height="13.1" fill="#7f9fd3" stroke="#fff" stroke-opacity="0.75" stroke-width="1.1"/><rect x="2484.7" y="1399.5" width="365.3" height="13.1" fill="#abd0e8" stroke="#fff" stroke-opacity="0.75" stroke-width="1.1"/><rect x="2850" y="1399.5" width="365.3" height="13.1" fill="#efd3d6" stroke="#fff" stroke-opacity="0.75" stroke-width="1.1"/><rect x="2462.1" y="1399.5" width="22.5" height="13.1" fill="#7f9fd3" stroke="#fff" stroke-opacity="0.75" stroke-width="1.1"/><rect x="2470.5" y="1386.4" width="379.5" height="13.1" fill="#abd0e8" stroke="#fff" stroke-opacity="0.75" stroke-width="1.1"/><rect x="2850" y="1386.4" width="379.5" height="13.1" fill="#efd3d6" stroke="#fff" stroke-opacity="0.75" stroke-width="1.1"/><rect x="2447.4" y="1386.4" width="23.2" height="13.1" fill="#7f9fd3" stroke="#fff" stroke-opacity="0.75" stroke-width="1.1"/><rect x="2439.4" y="1373.3" width="410.6" height="13.1" fill="#abd0e8" stroke="#fff" stroke-opacity="0.75" stroke-width="1.1"/><rect x="2850" y="1373.3" width="410.6" height="13.1" fill="#efd3d6" stroke="#fff" stroke-opacity="0.75" stroke-width="1.1"/><rect x="2412.5" y="1373.3" width="26.9" height="13.1" fill="#7f9fd3" stroke="#fff" stroke-opacity="0.75" stroke-width="1.1"/><rect x="2416.8" y="1360.2" width="433.2" height="13.1" fill="#abd0e8" stroke="#fff" stroke-opacity="0.75" stroke-width="1.1"/><rect x="2850" y="1360.2" width="433.2" height="13.1" fill="#efd3d6" stroke="#fff" stroke-opacity="0.75" stroke-width="1.1"/><rect x="2390.5" y="1360.2" width="26.3" height="13.1" fill="#7f9fd3" stroke="#fff" stroke-opacity="0.75" stroke-width="1.1"/><rect x="2365.2" y="1347.1" width="484.8" height="13.1" fill="#abd0e8" stroke="#fff" stroke-opacity="0.75" stroke-width="1.1"/><rect x="2850" y="1347.1" width="484.8" height="13.1" fill="#efd3d6" stroke="#fff" stroke-opacity="0.75" stroke-width="1.1"/><rect x="2336.7" y="1347.1" width="28.5" height="13.1" fill="#7f9fd3" stroke="#fff" stroke-opacity="0.75" stroke-width="1.1"/><rect x="2348.6" y="1334.1" width="501.4" height="13.1" fill="#abd0e8" stroke="#fff" stroke-opacity="0.75" stroke-width="1.1"/><rect x="2850" y="1334.1" width="501.4" height="13.1" fill="#efd3d6" stroke="#fff" stroke-opacity="0.75" stroke-width="1.1"/><rect x="2320.1" y="1334.1" width="28.5" height="13.1" fill="#7f9fd3" stroke="#fff" stroke-opacity="0.75" stroke-width="1.1"/><rect x="2353.9" y="1321" width="496.1" height="13.1" fill="#abd0e8" stroke="#fff" stroke-opacity="0.75" stroke-width="1.1"/><rect x="2850" y="1321" width="496.1" height="13.1" fill="#efd3d6" stroke="#fff" stroke-opacity="0.75" stroke-width="1.1"/><rect x="2323.5" y="1321" width="30.4" height="13.1" fill="#7f9fd3" stroke="#fff" stroke-opacity="0.75" stroke-width="1.1"/><rect x="2357.1" y="1307.9" width="492.9" height="13.1" fill="#abd0e8" stroke="#fff" stroke-opacity="0.75" stroke-width="1.1"/><rect x="2850" y="1307.9" width="492.9" height="13.1" fill="#efd3d6" stroke="#fff" stroke-opacity="0.75" stroke-width="1.1"/><rect x="2327.9" y="1307.9" width="29.1" height="13.1" fill="#7f9fd3" stroke="#fff" stroke-opacity="0.75" stroke-width="1.1"/><rect x="2355.2" y="1294.8" width="494.8" height="13.1" fill="#abd0e8" stroke="#fff" stroke-opacity="0.75" stroke-width="1.1"/><rect x="2850" y="1294.8" width="494.8" height="13.1" fill="#efd3d6" stroke="#fff" stroke-opacity="0.75" stroke-width="1.1"/><rect x="2324.5" y="1294.8" width="30.7" height="13.1" fill="#7f9fd3" stroke="#fff" stroke-opacity="0.75" stroke-width="1.1"/><rect x="2381.3" y="1281.7" width="468.7" height="13.1" fill="#abd0e8" stroke="#fff" stroke-opacity="0.75" stroke-width="1.1"/><rect x="2850" y="1281.7" width="468.7" height="13.1" fill="#efd3d6" stroke="#fff" stroke-opacity="0.75" stroke-width="1.1"/><rect x="2353.7" y="1281.7" width="27.6" height="13.1" fill="#7f9fd3" stroke="#fff" stroke-opacity="0.75" stroke-width="1.1"/><rect x="2395.4" y="1268.7" width="454.6" height="13.1" fill="#abd0e8" stroke="#fff" stroke-opacity="0.75" stroke-width="1.1"/><rect x="2850" y="1268.7" width="454.6" height="13.1" fill="#efd3d6" stroke="#fff" stroke-opacity="0.75" stroke-width="1.1"/><rect x="2366.3" y="1268.7" width="29.1" height="13.1" fill="#7f9fd3" stroke="#fff" stroke-opacity="0.75" stroke-width="1.1"/><rect x="2406.1" y="1255.6" width="443.9" height="13.1" fill="#abd0e8" stroke="#fff" stroke-opacity="0.75" stroke-width="1.1"/><rect x="2850" y="1255.6" width="443.9" height="13.1" fill="#efd3d6" stroke="#fff" stroke-opacity="0.75" stroke-width="1.1"/><rect x="2380.4" y="1255.6" width="25.7" height="13.1" fill="#7f9fd3" stroke="#fff" stroke-opacity="0.75" stroke-width="1.1"/><rect x="2407" y="1242.5" width="443" height="13.1" fill="#abd0e8" stroke="#fff" stroke-opacity="0.75" stroke-width="1.1"/><rect x="2850" y="1242.5" width="443" height="13.1" fill="#efd3d6" stroke="#fff" stroke-opacity="0.75" stroke-width="1.1"/><rect x="2382.9" y="1242.5" width="24.1" height="13.1" fill="#7f9fd3" stroke="#fff" stroke-opacity="0.75" stroke-width="1.1"/><rect x="2432.8" y="1229.4" width="417.2" height="13.1" fill="#abd0e8" stroke="#fff" stroke-opacity="0.75" stroke-width="1.1"/><rect x="2850" y="1229.4" width="417.2" height="13.1" fill="#efd3d6" stroke="#fff" stroke-opacity="0.75" stroke-width="1.1"/><rect x="2410.3" y="1229.4" width="22.5" height="13.1" fill="#7f9fd3" stroke="#fff" stroke-opacity="0.75" stroke-width="1.1"/><rect x="2468" y="1216.3" width="382" height="13.1" fill="#abd0e8" stroke="#fff" stroke-opacity="0.75" stroke-width="1.1"/><rect x="2850" y="1216.3" width="382" height="13.1" fill="#efd3d6" stroke="#fff" stroke-opacity="0.75" stroke-width="1.1"/><rect x="2445.5" y="1216.3" width="22.5" height="13.1" fill="#7f9fd3" stroke="#fff" stroke-opacity="0.75" stroke-width="1.1"/><rect x="2458.3" y="1203.3" width="391.7" height="13.1" fill="#abd0e8" stroke="#fff" stroke-opacity="0.75" stroke-width="1.1"/><rect x="2850" y="1203.3" width="391.7" height="13.1" fill="#efd3d6" stroke="#fff" stroke-opacity="0.75" stroke-width="1.1"/><rect x="2434.8" y="1203.3" width="23.5" height="13.1" fill="#7f9fd3" stroke="#fff" stroke-opacity="0.75" stroke-width="1.1"/><rect x="2466.4" y="1190.2" width="383.6" height="13.1" fill="#abd0e8" stroke="#fff" stroke-opacity="0.75" stroke-width="1.1"/><rect x="2850" y="1190.2" width="383.6" height="13.1" fill="#efd3d6" stroke="#fff" stroke-opacity="0.75" stroke-width="1.1"/><rect x="2448.6" y="1190.2" width="17.8" height="13.1" fill="#7f9fd3" stroke="#fff" stroke-opacity="0.75" stroke-width="1.1"/><rect x="2453.6" y="1177.1" width="396.4" height="13.1" fill="#abd0e8" stroke="#fff" stroke-opacity="0.75" stroke-width="1.1"/><rect x="2850" y="1177.1" width="396.4" height="13.1" fill="#efd3d6" stroke="#fff" stroke-opacity="0.75" stroke-width="1.1"/><rect x="2427.9" y="1177.1" width="25.7" height="13.1" fill="#7f9fd3" stroke="#fff" stroke-opacity="0.75" stroke-width="1.1"/><rect x="2466.1" y="1164" width="383.9" height="13.1" fill="#abd0e8" stroke="#fff" stroke-opacity="0.75" stroke-width="1.1"/><rect x="2850" y="1164" width="383.9" height="13.1" fill="#efd3d6" stroke="#fff" stroke-opacity="0.75" stroke-width="1.1"/><rect x="2432.9" y="1164" width="33.2" height="13.1" fill="#7f9fd3" stroke="#fff" stroke-opacity="0.75" stroke-width="1.1"/><rect x="2489.1" y="1150.9" width="360.9" height="13.1" fill="#abd0e8" stroke="#fff" stroke-opacity="0.75" stroke-width="1.1"/><rect x="2850" y="1150.9" width="360.9" height="13.1" fill="#efd3d6" stroke="#fff" stroke-opacity="0.75" stroke-width="1.1"/><rect x="2460.6" y="1150.9" width="28.5" height="13.1" fill="#7f9fd3" stroke="#fff" stroke-opacity="0.75" stroke-width="1.1"/><rect x="2461.1" y="1137.9" width="388.9" height="13.1" fill="#abd0e8" stroke="#fff" stroke-opacity="0.75" stroke-width="1.1"/><rect x="2850" y="1137.9" width="388.9" height="13.1" fill="#efd3d6" stroke="#fff" stroke-opacity="0.75" stroke-width="1.1"/><rect x="2429.1" y="1137.9" width="32" height="13.1" fill="#7f9fd3" stroke="#fff" stroke-opacity="0.75" stroke-width="1.1"/><rect x="2485.9" y="1124.8" width="364.1" height="13.1" fill="#abd0e8" stroke="#fff" stroke-opacity="0.75" stroke-width="1.1"/><rect x="2850" y="1124.8" width="364.1" height="13.1" fill="#efd3d6" stroke="#fff" stroke-opacity="0.75" stroke-width="1.1"/><rect x="2460.6" y="1124.8" width="25.4" height="13.1" fill="#7f9fd3" stroke="#fff" stroke-opacity="0.75" stroke-width="1.1"/><rect x="2485.9" y="1111.7" width="364.1" height="13.1" fill="#abd0e8" stroke="#fff" stroke-opacity="0.75" stroke-width="1.1"/><rect x="2850" y="1111.7" width="364.1" height="13.1" fill="#efd3d6" stroke="#fff" stroke-opacity="0.75" stroke-width="1.1"/><rect x="2470.9" y="1111.7" width="15" height="13.1" fill="#7f9fd3" stroke="#fff" stroke-opacity="0.75" stroke-width="1.1"/><rect x="2502" y="1098.6" width="348" height="13.1" fill="#abd0e8" stroke="#fff" stroke-opacity="0.75" stroke-width="1.1"/><rect x="2850" y="1098.6" width="348" height="13.1" fill="#efd3d6" stroke="#fff" stroke-opacity="0.75" stroke-width="1.1"/><rect x="2483.5" y="1098.6" width="18.5" height="13.1" fill="#7f9fd3" stroke="#fff" stroke-opacity="0.75" stroke-width="1.1"/><rect x="2463.7" y="1085.5" width="386.3" height="13.1" fill="#abd0e8" stroke="#fff" stroke-opacity="0.75" stroke-width="1.1"/><rect x="2850" y="1085.5" width="386.3" height="13.1" fill="#efd3d6" stroke="#fff" stroke-opacity="0.75" stroke-width="1.1"/><rect x="2450.2" y="1085.5" width="13.5" height="13.1" fill="#7f9fd3" stroke="#fff" stroke-opacity="0.75" stroke-width="1.1"/><rect x="2431.5" y="1072.5" width="418.5" height="13.1" fill="#abd0e8" stroke="#fff" stroke-opacity="0.75" stroke-width="1.1"/><rect x="2850" y="1072.5" width="418.5" height="13.1" fill="#efd3d6" stroke="#fff" stroke-opacity="0.75" stroke-width="1.1"/><rect x="2424" y="1072.5" width="7.5" height="13.1" fill="#7f9fd3" stroke="#fff" stroke-opacity="0.75" stroke-width="1.1"/><rect x="2448.1" y="1059.4" width="401.9" height="13.1" fill="#abd0e8" stroke="#fff" stroke-opacity="0.75" stroke-width="1.1"/><rect x="2850" y="1059.4" width="401.9" height="13.1" fill="#efd3d6" stroke="#fff" stroke-opacity="0.75" stroke-width="1.1"/><rect x="2439.1" y="1059.4" width="9" height="13.1" fill="#7f9fd3" stroke="#fff" stroke-opacity="0.75" stroke-width="1.1"/><rect x="2433.6" y="1046.3" width="416.4" height="13.1" fill="#abd0e8" stroke="#fff" stroke-opacity="0.75" stroke-width="1.1"/><rect x="2850" y="1046.3" width="416.4" height="13.1" fill="#efd3d6" stroke="#fff" stroke-opacity="0.75" stroke-width="1.1"/><rect x="2432.2" y="1046.3" width="1.5" height="13.1" fill="#7f9fd3" stroke="#fff" stroke-opacity="0.75" stroke-width="1.1"/><rect x="2383.5" y="1033.2" width="466.5" height="13.1" fill="#abd0e8" stroke="#fff" stroke-opacity="0.75" stroke-width="1.1"/><rect x="2850" y="1033.2" width="466.5" height="13.1" fill="#efd3d6" stroke="#fff" stroke-opacity="0.75" stroke-width="1.1"/><rect x="3316.5" y="1033.2" width="5.4" height="13.1" fill="#e07a78" stroke="#fff" stroke-opacity="0.75" stroke-width="1.1"/><rect x="2333.3" y="1020.1" width="516.7" height="13.1" fill="#abd0e8" stroke="#fff" stroke-opacity="0.75" stroke-width="1.1"/><rect x="2850" y="1020.1" width="516.7" height="13.1" fill="#efd3d6" stroke="#fff" stroke-opacity="0.75" stroke-width="1.1"/><rect x="3366.7" y="1020.1" width="5.4" height="13.1" fill="#e07a78" stroke="#fff" stroke-opacity="0.75" stroke-width="1.1"/><rect x="2220.6" y="1007.1" width="629.4" height="13.1" fill="#abd0e8" stroke="#fff" stroke-opacity="0.75" stroke-width="1.1"/><rect x="2850" y="1007.1" width="629.4" height="13.1" fill="#efd3d6" stroke="#fff" stroke-opacity="0.75" stroke-width="1.1"/><rect x="3479.4" y="1007.1" width="0.9" height="13.1" fill="#e07a78" stroke="#fff" stroke-opacity="0.75" stroke-width="1.1"/><rect x="2212.1" y="994" width="637.9" height="13.1" fill="#abd0e8" stroke="#fff" stroke-opacity="0.75" stroke-width="1.1"/><rect x="2850" y="994" width="637.9" height="13.1" fill="#efd3d6" stroke="#fff" stroke-opacity="0.75" stroke-width="1.1"/><rect x="3487.9" y="994" width="12.3" height="13.1" fill="#e07a78" stroke="#fff" stroke-opacity="0.75" stroke-width="1.1"/><rect x="2201" y="980.9" width="649" height="13.1" fill="#abd0e8" stroke="#fff" stroke-opacity="0.75" stroke-width="1.1"/><rect x="2850" y="980.9" width="649" height="13.1" fill="#efd3d6" stroke="#fff" stroke-opacity="0.75" stroke-width="1.1"/><rect x="3499" y="980.9" width="18.3" height="13.1" fill="#e07a78" stroke="#fff" stroke-opacity="0.75" stroke-width="1.1"/><rect x="2168.6" y="967.8" width="681.4" height="13.1" fill="#abd0e8" stroke="#fff" stroke-opacity="0.75" stroke-width="1.1"/><rect x="2850" y="967.8" width="681.4" height="13.1" fill="#efd3d6" stroke="#fff" stroke-opacity="0.75" stroke-width="1.1"/><rect x="3531.4" y="967.8" width="16.8" height="13.1" fill="#e07a78" stroke="#fff" stroke-opacity="0.75" stroke-width="1.1"/><rect x="2161" y="954.7" width="689" height="13.1" fill="#abd0e8" stroke="#fff" stroke-opacity="0.75" stroke-width="1.1"/><rect x="2850" y="954.7" width="689" height="13.1" fill="#efd3d6" stroke="#fff" stroke-opacity="0.75" stroke-width="1.1"/><rect x="3539" y="954.7" width="14.1" height="13.1" fill="#e07a78" stroke="#fff" stroke-opacity="0.75" stroke-width="1.1"/><rect x="2162.8" y="941.7" width="687.2" height="13.1" fill="#abd0e8" stroke="#fff" stroke-opacity="0.75" stroke-width="1.1"/><rect x="2850" y="941.7" width="687.2" height="13.1" fill="#efd3d6" stroke="#fff" stroke-opacity="0.75" stroke-width="1.1"/><rect x="3537.2" y="941.7" width="17.4" height="13.1" fill="#e07a78" stroke="#fff" stroke-opacity="0.75" stroke-width="1.1"/><rect x="2207.9" y="928.6" width="642.1" height="13.1" fill="#abd0e8" stroke="#fff" stroke-opacity="0.75" stroke-width="1.1"/><rect x="2850" y="928.6" width="642.1" height="13.1" fill="#efd3d6" stroke="#fff" stroke-opacity="0.75" stroke-width="1.1"/><rect x="3492.1" y="928.6" width="20.8" height="13.1" fill="#e07a78" stroke="#fff" stroke-opacity="0.75" stroke-width="1.1"/><rect x="2202.5" y="915.5" width="647.5" height="13.1" fill="#abd0e8" stroke="#fff" stroke-opacity="0.75" stroke-width="1.1"/><rect x="2850" y="915.5" width="647.5" height="13.1" fill="#efd3d6" stroke="#fff" stroke-opacity="0.75" stroke-width="1.1"/><rect x="3497.5" y="915.5" width="35.2" height="13.1" fill="#e07a78" stroke="#fff" stroke-opacity="0.75" stroke-width="1.1"/><rect x="2242.2" y="902.4" width="607.8" height="13.1" fill="#abd0e8" stroke="#fff" stroke-opacity="0.75" stroke-width="1.1"/><rect x="2850" y="902.4" width="607.8" height="13.1" fill="#efd3d6" stroke="#fff" stroke-opacity="0.75" stroke-width="1.1"/><rect x="3457.8" y="902.4" width="38.5" height="13.1" fill="#e07a78" stroke="#fff" stroke-opacity="0.75" stroke-width="1.1"/><rect x="2275.3" y="889.3" width="574.7" height="13.1" fill="#abd0e8" stroke="#fff" stroke-opacity="0.75" stroke-width="1.1"/><rect x="2850" y="889.3" width="574.7" height="13.1" fill="#efd3d6" stroke="#fff" stroke-opacity="0.75" stroke-width="1.1"/><rect x="3424.7" y="889.3" width="37" height="13.1" fill="#e07a78" stroke="#fff" stroke-opacity="0.75" stroke-width="1.1"/><rect x="2213.9" y="876.3" width="636.1" height="13.1" fill="#abd0e8" stroke="#fff" stroke-opacity="0.75" stroke-width="1.1"/><rect x="2850" y="876.3" width="636.1" height="13.1" fill="#efd3d6" stroke="#fff" stroke-opacity="0.75" stroke-width="1.1"/><rect x="3486.1" y="876.3" width="27.7" height="13.1" fill="#e07a78" stroke="#fff" stroke-opacity="0.75" stroke-width="1.1"/><rect x="2285.2" y="863.2" width="564.8" height="13.1" fill="#abd0e8" stroke="#fff" stroke-opacity="0.75" stroke-width="1.1"/><rect x="2850" y="863.2" width="564.8" height="13.1" fill="#efd3d6" stroke="#fff" stroke-opacity="0.75" stroke-width="1.1"/><rect x="3414.8" y="863.2" width="42.7" height="13.1" fill="#e07a78" stroke="#fff" stroke-opacity="0.75" stroke-width="1.1"/><rect x="2296" y="850.1" width="554" height="13.1" fill="#abd0e8" stroke="#fff" stroke-opacity="0.75" stroke-width="1.1"/><rect x="2850" y="850.1" width="554" height="13.1" fill="#efd3d6" stroke="#fff" stroke-opacity="0.75" stroke-width="1.1"/><rect x="3404" y="850.1" width="45.7" height="13.1" fill="#e07a78" stroke="#fff" stroke-opacity="0.75" stroke-width="1.1"/><rect x="2332.7" y="837" width="517.3" height="13.1" fill="#abd0e8" stroke="#fff" stroke-opacity="0.75" stroke-width="1.1"/><rect x="2850" y="837" width="517.3" height="13.1" fill="#efd3d6" stroke="#fff" stroke-opacity="0.75" stroke-width="1.1"/><rect x="3367.3" y="837" width="53.2" height="13.1" fill="#e07a78" stroke="#fff" stroke-opacity="0.75" stroke-width="1.1"/><rect x="2307.7" y="823.9" width="542.3" height="13.1" fill="#abd0e8" stroke="#fff" stroke-opacity="0.75" stroke-width="1.1"/><rect x="2850" y="823.9" width="542.3" height="13.1" fill="#efd3d6" stroke="#fff" stroke-opacity="0.75" stroke-width="1.1"/><rect x="3392.3" y="823.9" width="51.4" height="13.1" fill="#e07a78" stroke="#fff" stroke-opacity="0.75" stroke-width="1.1"/><rect x="2309.2" y="810.9" width="540.8" height="13.1" fill="#abd0e8" stroke="#fff" stroke-opacity="0.75" stroke-width="1.1"/><rect x="2850" y="810.9" width="540.8" height="13.1" fill="#efd3d6" stroke="#fff" stroke-opacity="0.75" stroke-width="1.1"/><rect x="3390.8" y="810.9" width="55.9" height="13.1" fill="#e07a78" stroke="#fff" stroke-opacity="0.75" stroke-width="1.1"/><rect x="2342.9" y="797.8" width="507.1" height="13.1" fill="#abd0e8" stroke="#fff" stroke-opacity="0.75" stroke-width="1.1"/><rect x="2850" y="797.8" width="507.1" height="13.1" fill="#efd3d6" stroke="#fff" stroke-opacity="0.75" stroke-width="1.1"/><rect x="3357.1" y="797.8" width="52" height="13.1" fill="#e07a78" stroke="#fff" stroke-opacity="0.75" stroke-width="1.1"/><rect x="2370.8" y="784.7" width="479.2" height="13.1" fill="#abd0e8" stroke="#fff" stroke-opacity="0.75" stroke-width="1.1"/><rect x="2850" y="784.7" width="479.2" height="13.1" fill="#efd3d6" stroke="#fff" stroke-opacity="0.75" stroke-width="1.1"/><rect x="3329.2" y="784.7" width="56.5" height="13.1" fill="#e07a78" stroke="#fff" stroke-opacity="0.75" stroke-width="1.1"/><rect x="2366" y="771.6" width="484" height="13.1" fill="#abd0e8" stroke="#fff" stroke-opacity="0.75" stroke-width="1.1"/><rect x="2850" y="771.6" width="484" height="13.1" fill="#efd3d6" stroke="#fff" stroke-opacity="0.75" stroke-width="1.1"/><rect x="3334" y="771.6" width="57.7" height="13.1" fill="#e07a78" stroke="#fff" stroke-opacity="0.75" stroke-width="1.1"/><rect x="2387.2" y="758.5" width="462.8" height="13.1" fill="#abd0e8" stroke="#fff" stroke-opacity="0.75" stroke-width="1.1"/><rect x="2850" y="758.5" width="462.8" height="13.1" fill="#efd3d6" stroke="#fff" stroke-opacity="0.75" stroke-width="1.1"/><rect x="3312.8" y="758.5" width="56.6" height="13.1" fill="#e07a78" stroke="#fff" stroke-opacity="0.75" stroke-width="1.1"/><rect x="2351.1" y="745.5" width="498.9" height="13.1" fill="#abd0e8" stroke="#fff" stroke-opacity="0.75" stroke-width="1.1"/><rect x="2850" y="745.5" width="498.9" height="13.1" fill="#efd3d6" stroke="#fff" stroke-opacity="0.75" stroke-width="1.1"/><rect x="3348.9" y="745.5" width="47.6" height="13.1" fill="#e07a78" stroke="#fff" stroke-opacity="0.75" stroke-width="1.1"/><rect x="2411.2" y="732.4" width="438.8" height="13.1" fill="#abd0e8" stroke="#fff" stroke-opacity="0.75" stroke-width="1.1"/><rect x="2850" y="732.4" width="438.8" height="13.1" fill="#efd3d6" stroke="#fff" stroke-opacity="0.75" stroke-width="1.1"/><rect x="3288.8" y="732.4" width="60.2" height="13.1" fill="#e07a78" stroke="#fff" stroke-opacity="0.75" stroke-width="1.1"/><rect x="2414.5" y="719.3" width="435.5" height="13.1" fill="#abd0e8" stroke="#fff" stroke-opacity="0.75" stroke-width="1.1"/><rect x="2850" y="719.3" width="435.5" height="13.1" fill="#efd3d6" stroke="#fff" stroke-opacity="0.75" stroke-width="1.1"/><rect x="3285.5" y="719.3" width="64.4" height="13.1" fill="#e07a78" stroke="#fff" stroke-opacity="0.75" stroke-width="1.1"/><rect x="2449.7" y="706.2" width="400.3" height="13.1" fill="#abd0e8" stroke="#fff" stroke-opacity="0.75" stroke-width="1.1"/><rect x="2850" y="706.2" width="400.3" height="13.1" fill="#efd3d6" stroke="#fff" stroke-opacity="0.75" stroke-width="1.1"/><rect x="3250.3" y="706.2" width="72.2" height="13.1" fill="#e07a78" stroke="#fff" stroke-opacity="0.75" stroke-width="1.1"/><rect x="2435.9" y="693.1" width="414.1" height="13.1" fill="#abd0e8" stroke="#fff" stroke-opacity="0.75" stroke-width="1.1"/><rect x="2850" y="693.1" width="414.1" height="13.1" fill="#efd3d6" stroke="#fff" stroke-opacity="0.75" stroke-width="1.1"/><rect x="3264.1" y="693.1" width="80.1" height="13.1" fill="#e07a78" stroke="#fff" stroke-opacity="0.75" stroke-width="1.1"/><rect x="2405.2" y="680.1" width="444.8" height="13.1" fill="#abd0e8" stroke="#fff" stroke-opacity="0.75" stroke-width="1.1"/><rect x="2850" y="680.1" width="444.8" height="13.1" fill="#efd3d6" stroke="#fff" stroke-opacity="0.75" stroke-width="1.1"/><rect x="3294.8" y="680.1" width="89.4" height="13.1" fill="#e07a78" stroke="#fff" stroke-opacity="0.75" stroke-width="1.1"/><rect x="2426.2" y="667" width="423.8" height="13.1" fill="#abd0e8" stroke="#fff" stroke-opacity="0.75" stroke-width="1.1"/><rect x="2850" y="667" width="423.8" height="13.1" fill="#efd3d6" stroke="#fff" stroke-opacity="0.75" stroke-width="1.1"/><rect x="3273.8" y="667" width="105.3" height="13.1" fill="#e07a78" stroke="#fff" stroke-opacity="0.75" stroke-width="1.1"/><rect x="2390.8" y="653.9" width="459.2" height="13.1" fill="#abd0e8" stroke="#fff" stroke-opacity="0.75" stroke-width="1.1"/><rect x="2850" y="653.9" width="459.2" height="13.1" fill="#efd3d6" stroke="#fff" stroke-opacity="0.75" stroke-width="1.1"/><rect x="3309.2" y="653.9" width="121.8" height="13.1" fill="#e07a78" stroke="#fff" stroke-opacity="0.75" stroke-width="1.1"/><rect x="2395.6" y="640.8" width="454.4" height="13.1" fill="#abd0e8" stroke="#fff" stroke-opacity="0.75" stroke-width="1.1"/><rect x="2850" y="640.8" width="454.4" height="13.1" fill="#efd3d6" stroke="#fff" stroke-opacity="0.75" stroke-width="1.1"/><rect x="3304.4" y="640.8" width="138.4" height="13.1" fill="#e07a78" stroke="#fff" stroke-opacity="0.75" stroke-width="1.1"/><rect x="2383.3" y="627.7" width="466.7" height="13.1" fill="#abd0e8" stroke="#fff" stroke-opacity="0.75" stroke-width="1.1"/><rect x="2850" y="627.7" width="466.7" height="13.1" fill="#efd3d6" stroke="#fff" stroke-opacity="0.75" stroke-width="1.1"/><rect x="3316.7" y="627.7" width="152.8" height="13.1" fill="#e07a78" stroke="#fff" stroke-opacity="0.75" stroke-width="1.1"/><rect x="2336.7" y="614.7" width="513.3" height="13.1" fill="#abd0e8" stroke="#fff" stroke-opacity="0.75" stroke-width="1.1"/><rect x="2850" y="614.7" width="513.3" height="13.1" fill="#efd3d6" stroke="#fff" stroke-opacity="0.75" stroke-width="1.1"/><rect x="3363.3" y="614.7" width="164.5" height="13.1" fill="#e07a78" stroke="#fff" stroke-opacity="0.75" stroke-width="1.1"/><rect x="2392.6" y="601.6" width="457.4" height="13.1" fill="#abd0e8" stroke="#fff" stroke-opacity="0.75" stroke-width="1.1"/><rect x="2850" y="601.6" width="457.4" height="13.1" fill="#efd3d6" stroke="#fff" stroke-opacity="0.75" stroke-width="1.1"/><rect x="3307.4" y="601.6" width="171.4" height="13.1" fill="#e07a78" stroke="#fff" stroke-opacity="0.75" stroke-width="1.1"/><rect x="2404" y="588.5" width="446" height="13.1" fill="#abd0e8" stroke="#fff" stroke-opacity="0.75" stroke-width="1.1"/><rect x="2850" y="588.5" width="446" height="13.1" fill="#efd3d6" stroke="#fff" stroke-opacity="0.75" stroke-width="1.1"/><rect x="3296" y="588.5" width="183.2" height="13.1" fill="#e07a78" stroke="#fff" stroke-opacity="0.75" stroke-width="1.1"/><rect x="2437.7" y="575.4" width="412.3" height="13.1" fill="#abd0e8" stroke="#fff" stroke-opacity="0.75" stroke-width="1.1"/><rect x="2850" y="575.4" width="412.3" height="13.1" fill="#efd3d6" stroke="#fff" stroke-opacity="0.75" stroke-width="1.1"/><rect x="3262.3" y="575.4" width="185" height="13.1" fill="#e07a78" stroke="#fff" stroke-opacity="0.75" stroke-width="1.1"/><rect x="2451.8" y="562.3" width="398.2" height="13.1" fill="#abd0e8" stroke="#fff" stroke-opacity="0.75" stroke-width="1.1"/><rect x="2850" y="562.3" width="398.2" height="13.1" fill="#efd3d6" stroke="#fff" stroke-opacity="0.75" stroke-width="1.1"/><rect x="3248.2" y="562.3" width="193.4" height="13.1" fill="#e07a78" stroke="#fff" stroke-opacity="0.75" stroke-width="1.1"/><rect x="2463.8" y="549.3" width="386.2" height="13.1" fill="#abd0e8" stroke="#fff" stroke-opacity="0.75" stroke-width="1.1"/><rect x="2850" y="549.3" width="386.2" height="13.1" fill="#efd3d6" stroke="#fff" stroke-opacity="0.75" stroke-width="1.1"/><rect x="3236.2" y="549.3" width="202.4" height="13.1" fill="#e07a78" stroke="#fff" stroke-opacity="0.75" stroke-width="1.1"/><rect x="2487" y="536.2" width="363" height="13.1" fill="#abd0e8" stroke="#fff" stroke-opacity="0.75" stroke-width="1.1"/><rect x="2850" y="536.2" width="363" height="13.1" fill="#efd3d6" stroke="#fff" stroke-opacity="0.75" stroke-width="1.1"/><rect x="3213" y="536.2" width="210.8" height="13.1" fill="#e07a78" stroke="#fff" stroke-opacity="0.75" stroke-width="1.1"/><rect x="2535.3" y="523.1" width="314.7" height="13.1" fill="#abd0e8" stroke="#fff" stroke-opacity="0.75" stroke-width="1.1"/><rect x="2850" y="523.1" width="314.7" height="13.1" fill="#efd3d6" stroke="#fff" stroke-opacity="0.75" stroke-width="1.1"/><rect x="3164.7" y="523.1" width="197.3" height="13.1" fill="#e07a78" stroke="#fff" stroke-opacity="0.75" stroke-width="1.1"/><rect x="2540.5" y="510" width="309.5" height="13.1" fill="#abd0e8" stroke="#fff" stroke-opacity="0.75" stroke-width="1.1"/><rect x="2850" y="510" width="309.5" height="13.1" fill="#efd3d6" stroke="#fff" stroke-opacity="0.75" stroke-width="1.1"/><rect x="3159.5" y="510" width="206" height="13.1" fill="#e07a78" stroke="#fff" stroke-opacity="0.75" stroke-width="1.1"/><rect x="2572.9" y="496.9" width="277.1" height="13.1" fill="#abd0e8" stroke="#fff" stroke-opacity="0.75" stroke-width="1.1"/><rect x="2850" y="496.9" width="277.1" height="13.1" fill="#efd3d6" stroke="#fff" stroke-opacity="0.75" stroke-width="1.1"/><rect x="3127.1" y="496.9" width="207.5" height="13.1" fill="#e07a78" stroke="#fff" stroke-opacity="0.75" stroke-width="1.1"/><rect x="2574.1" y="483.9" width="275.9" height="13.1" fill="#abd0e8" stroke="#fff" stroke-opacity="0.75" stroke-width="1.1"/><rect x="2850" y="483.9" width="275.9" height="13.1" fill="#efd3d6" stroke="#fff" stroke-opacity="0.75" stroke-width="1.1"/><rect x="3125.9" y="483.9" width="203.6" height="13.1" fill="#e07a78" stroke="#fff" stroke-opacity="0.75" stroke-width="1.1"/><rect x="2594.6" y="470.8" width="255.4" height="13.1" fill="#abd0e8" stroke="#fff" stroke-opacity="0.75" stroke-width="1.1"/><rect x="2850" y="470.8" width="255.4" height="13.1" fill="#efd3d6" stroke="#fff" stroke-opacity="0.75" stroke-width="1.1"/><rect x="3105.4" y="470.8" width="216.5" height="13.1" fill="#e07a78" stroke="#fff" stroke-opacity="0.75" stroke-width="1.1"/><rect x="2649.3" y="457.7" width="200.7" height="13.1" fill="#abd0e8" stroke="#fff" stroke-opacity="0.75" stroke-width="1.1"/><rect x="2850" y="457.7" width="200.7" height="13.1" fill="#efd3d6" stroke="#fff" stroke-opacity="0.75" stroke-width="1.1"/><rect x="3050.7" y="457.7" width="180.2" height="13.1" fill="#e07a78" stroke="#fff" stroke-opacity="0.75" stroke-width="1.1"/><rect x="2670.6" y="444.6" width="179.4" height="13.1" fill="#abd0e8" stroke="#fff" stroke-opacity="0.75" stroke-width="1.1"/><rect x="2850" y="444.6" width="179.4" height="13.1" fill="#efd3d6" stroke="#fff" stroke-opacity="0.75" stroke-width="1.1"/><rect x="3029.4" y="444.6" width="174.7" height="13.1" fill="#e07a78" stroke="#fff" stroke-opacity="0.75" stroke-width="1.1"/><rect x="2696" y="431.5" width="154" height="13.1" fill="#abd0e8" stroke="#fff" stroke-opacity="0.75" stroke-width="1.1"/><rect x="2850" y="431.5" width="154" height="13.1" fill="#efd3d6" stroke="#fff" stroke-opacity="0.75" stroke-width="1.1"/><rect x="3004" y="431.5" width="159.7" height="13.1" fill="#e07a78" stroke="#fff" stroke-opacity="0.75" stroke-width="1.1"/><rect x="2750.1" y="418.5" width="99.9" height="13.1" fill="#abd0e8" stroke="#fff" stroke-opacity="0.75" stroke-width="1.1"/><rect x="2850" y="418.5" width="99.9" height="13.1" fill="#efd3d6" stroke="#fff" stroke-opacity="0.75" stroke-width="1.1"/><rect x="2949.9" y="418.5" width="96.9" height="13.1" fill="#e07a78" stroke="#fff" stroke-opacity="0.75" stroke-width="1.1"/><rect x="2788.5" y="405.4" width="61.5" height="13.1" fill="#abd0e8" stroke="#fff" stroke-opacity="0.75" stroke-width="1.1"/><rect x="2850" y="405.4" width="61.5" height="13.1" fill="#efd3d6" stroke="#fff" stroke-opacity="0.75" stroke-width="1.1"/><rect x="2911.5" y="405.4" width="71.3" height="13.1" fill="#e07a78" stroke="#fff" stroke-opacity="0.75" stroke-width="1.1"/><rect x="2795.5" y="392.3" width="54.5" height="13.1" fill="#abd0e8" stroke="#fff" stroke-opacity="0.75" stroke-width="1.1"/><rect x="2850" y="392.3" width="54.5" height="13.1" fill="#efd3d6" stroke="#fff" stroke-opacity="0.75" stroke-width="1.1"/><rect x="2904.5" y="392.3" width="66.8" height="13.1" fill="#e07a78" stroke="#fff" stroke-opacity="0.75" stroke-width="1.1"/><rect x="2781.6" y="379.2" width="68.4" height="13.1" fill="#abd0e8" stroke="#fff" stroke-opacity="0.75" stroke-width="1.1"/><rect x="2850" y="379.2" width="68.4" height="13.1" fill="#efd3d6" stroke="#fff" stroke-opacity="0.75" stroke-width="1.1"/><rect x="2918.4" y="379.2" width="103.8" height="13.1" fill="#e07a78" stroke="#fff" stroke-opacity="0.75" stroke-width="1.1"/><rect x="2758.5" y="366.1" width="91.5" height="13.1" fill="#abd0e8" stroke="#fff" stroke-opacity="0.75" stroke-width="1.1"/><rect x="2850" y="366.1" width="91.5" height="13.1" fill="#efd3d6" stroke="#fff" stroke-opacity="0.75" stroke-width="1.1"/><rect x="2941.5" y="366.1" width="160" height="13.1" fill="#e07a78" stroke="#fff" stroke-opacity="0.75" stroke-width="1.1"/><rect x="2757" y="353.1" width="93" height="13.1" fill="#abd0e8" stroke="#fff" stroke-opacity="0.75" stroke-width="1.1"/><rect x="2850" y="353.1" width="93" height="13.1" fill="#efd3d6" stroke="#fff" stroke-opacity="0.75" stroke-width="1.1"/><rect x="2943" y="353.1" width="160.6" height="13.1" fill="#e07a78" stroke="#fff" stroke-opacity="0.75" stroke-width="1.1"/><rect x="2763" y="340" width="87" height="13.1" fill="#abd0e8" stroke="#fff" stroke-opacity="0.75" stroke-width="1.1"/><rect x="2850" y="340" width="87" height="13.1" fill="#efd3d6" stroke="#fff" stroke-opacity="0.75" stroke-width="1.1"/><rect x="2937" y="340" width="169.6" height="13.1" fill="#e07a78" stroke="#fff" stroke-opacity="0.75" stroke-width="1.1"/><rect x="2775" y="326.9" width="75" height="13.1" fill="#abd0e8" stroke="#fff" stroke-opacity="0.75" stroke-width="1.1"/><rect x="2850" y="326.9" width="75" height="13.1" fill="#efd3d6" stroke="#fff" stroke-opacity="0.75" stroke-width="1.1"/><rect x="2925" y="326.9" width="157.9" height="13.1" fill="#e07a78" stroke="#fff" stroke-opacity="0.75" stroke-width="1.1"/><rect x="2784" y="313.8" width="66" height="13.1" fill="#abd0e8" stroke="#fff" stroke-opacity="0.75" stroke-width="1.1"/><rect x="2850" y="313.8" width="66" height="13.1" fill="#efd3d6" stroke="#fff" stroke-opacity="0.75" stroke-width="1.1"/><rect x="2916" y="313.8" width="138.6" height="13.1" fill="#e07a78" stroke="#fff" stroke-opacity="0.75" stroke-width="1.1"/><rect x="2802.7" y="300.7" width="47.3" height="13.1" fill="#abd0e8" stroke="#fff" stroke-opacity="0.75" stroke-width="1.1"/><rect x="2850" y="300.7" width="47.3" height="13.1" fill="#efd3d6" stroke="#fff" stroke-opacity="0.75" stroke-width="1.1"/><rect x="2897.3" y="300.7" width="100.2" height="13.1" fill="#e07a78" stroke="#fff" stroke-opacity="0.75" stroke-width="1.1"/><rect x="2814.1" y="287.7" width="35.9" height="13.1" fill="#abd0e8" stroke="#fff" stroke-opacity="0.75" stroke-width="1.1"/><rect x="2850" y="287.7" width="35.9" height="13.1" fill="#efd3d6" stroke="#fff" stroke-opacity="0.75" stroke-width="1.1"/><rect x="2885.9" y="287.7" width="77.9" height="13.1" fill="#e07a78" stroke="#fff" stroke-opacity="0.75" stroke-width="1.1"/><rect x="2827.6" y="274.6" width="22.4" height="13.1" fill="#abd0e8" stroke="#fff" stroke-opacity="0.75" stroke-width="1.1"/><rect x="2850" y="274.6" width="22.4" height="13.1" fill="#efd3d6" stroke="#fff" stroke-opacity="0.75" stroke-width="1.1"/><rect x="2872.4" y="274.6" width="53.3" height="13.1" fill="#e07a78" stroke="#fff" stroke-opacity="0.75" stroke-width="1.1"/><rect x="2833" y="261.5" width="17" height="13.1" fill="#abd0e8" stroke="#fff" stroke-opacity="0.75" stroke-width="1.1"/><rect x="2850" y="261.5" width="17" height="13.1" fill="#efd3d6" stroke="#fff" stroke-opacity="0.75" stroke-width="1.1"/><rect x="2867" y="261.5" width="44" height="13.1" fill="#e07a78" stroke="#fff" stroke-opacity="0.75" stroke-width="1.1"/><rect x="2831.5" y="248.4" width="18.5" height="13.1" fill="#abd0e8" stroke="#fff" stroke-opacity="0.75" stroke-width="1.1"/><rect x="2850" y="248.4" width="18.5" height="13.1" fill="#efd3d6" stroke="#fff" stroke-opacity="0.75" stroke-width="1.1"/><rect x="2868.5" y="248.4" width="48.2" height="13.1" fill="#e07a78" stroke="#fff" stroke-opacity="0.75" stroke-width="1.1"/><rect x="2838.1" y="235.3" width="11.9" height="13.1" fill="#abd0e8" stroke="#fff" stroke-opacity="0.75" stroke-width="1.1"/><rect x="2850" y="235.3" width="11.9" height="13.1" fill="#efd3d6" stroke="#fff" stroke-opacity="0.75" stroke-width="1.1"/><rect x="2861.9" y="235.3" width="32.2" height="13.1" fill="#e07a78" stroke="#fff" stroke-opacity="0.75" stroke-width="1.1"/><rect x="2838.1" y="222.3" width="11.9" height="13.1" fill="#abd0e8" stroke="#fff" stroke-opacity="0.75" stroke-width="1.1"/><rect x="2850" y="222.3" width="11.9" height="13.1" fill="#efd3d6" stroke="#fff" stroke-opacity="0.75" stroke-width="1.1"/><rect x="2861.9" y="222.3" width="28.3" height="13.1" fill="#e07a78" stroke="#fff" stroke-opacity="0.75" stroke-width="1.1"/><rect x="2844.2" y="209.2" width="5.8" height="13.1" fill="#abd0e8" stroke="#fff" stroke-opacity="0.75" stroke-width="1.1"/><rect x="2850" y="209.2" width="5.8" height="13.1" fill="#efd3d6" stroke="#fff" stroke-opacity="0.75" stroke-width="1.1"/><rect x="2855.8" y="209.2" width="21.7" height="13.1" fill="#e07a78" stroke="#fff" stroke-opacity="0.75" stroke-width="1.1"/><rect x="2845.1" y="196.1" width="4.9" height="13.1" fill="#abd0e8" stroke="#fff" stroke-opacity="0.75" stroke-width="1.1"/><rect x="2850" y="196.1" width="4.9" height="13.1" fill="#efd3d6" stroke="#fff" stroke-opacity="0.75" stroke-width="1.1"/><rect x="2854.9" y="196.1" width="16.3" height="13.1" fill="#e07a78" stroke="#fff" stroke-opacity="0.75" stroke-width="1.1"/><rect x="2846.6" y="183" width="3.4" height="13.1" fill="#abd0e8" stroke="#fff" stroke-opacity="0.75" stroke-width="1.1"/><rect x="2850" y="183" width="3.4" height="13.1" fill="#efd3d6" stroke="#fff" stroke-opacity="0.75" stroke-width="1.1"/><rect x="2853.4" y="183" width="11.5" height="13.1" fill="#e07a78" stroke="#fff" stroke-opacity="0.75" stroke-width="1.1"/><rect x="2847.8" y="169.9" width="2.2" height="13.1" fill="#abd0e8" stroke="#fff" stroke-opacity="0.75" stroke-width="1.1"/><rect x="2850" y="169.9" width="2.2" height="13.1" fill="#efd3d6" stroke="#fff" stroke-opacity="0.75" stroke-width="1.1"/><rect x="2852.2" y="169.9" width="8.2" height="13.1" fill="#e07a78" stroke="#fff" stroke-opacity="0.75" stroke-width="1.1"/><rect x="2848.7" y="156.9" width="1.3" height="13.1" fill="#abd0e8" stroke="#fff" stroke-opacity="0.75" stroke-width="1.1"/><rect x="2850" y="156.9" width="1.3" height="13.1" fill="#efd3d6" stroke="#fff" stroke-opacity="0.75" stroke-width="1.1"/><rect x="2851.3" y="156.9" width="5.5" height="13.1" fill="#e07a78" stroke="#fff" stroke-opacity="0.75" stroke-width="1.1"/><rect x="2849.3" y="143.8" width="0.7" height="13.1" fill="#abd0e8" stroke="#fff" stroke-opacity="0.75" stroke-width="1.1"/><rect x="2850" y="143.8" width="0.7" height="13.1" fill="#efd3d6" stroke="#fff" stroke-opacity="0.75" stroke-width="1.1"/><rect x="2850.7" y="143.8" width="3.7" height="13.1" fill="#e07a78" stroke="#fff" stroke-opacity="0.75" stroke-width="1.1"/><rect x="2849.3" y="130.7" width="0.7" height="13.1" fill="#abd0e8" stroke="#fff" stroke-opacity="0.75" stroke-width="1.1"/><rect x="2850" y="130.7" width="0.7" height="13.1" fill="#efd3d6" stroke="#fff" stroke-opacity="0.75" stroke-width="1.1"/><rect x="2850.7" y="130.7" width="1.9" height="13.1" fill="#e07a78" stroke="#fff" stroke-opacity="0.75" stroke-width="1.1"/><rect x="2849.3" y="117.6" width="0.7" height="13.1" fill="#abd0e8" stroke="#fff" stroke-opacity="0.75" stroke-width="1.1"/><rect x="2850" y="117.6" width="0.7" height="13.1" fill="#efd3d6" stroke="#fff" stroke-opacity="0.75" stroke-width="1.1"/><rect x="2850.7" y="117.6" width="2.8" height="13.1" fill="#e07a78" stroke="#fff" stroke-opacity="0.75" stroke-width="1.1"/><rect x="2055" y="1437.9" width="1589.6" height="1.6" fill="#a6a6a6"/><rect x="2054.6" y="1438.5" width="1.6" height="12.3" fill="#a6a6a6"/><rect x="2319.2" y="1438.5" width="1.6" height="12.3" fill="#a6a6a6"/><rect x="2583.8" y="1438.5" width="1.6" height="12.3" fill="#a6a6a6"/><rect x="2848.4" y="1438.5" width="1.6" height="12.3" fill="#a6a6a6"/><rect x="3113" y="1438.5" width="1.6" height="12.3" fill="#a6a6a6"/><rect x="3377.6" y="1438.5" width="1.6" height="12.3" fill="#a6a6a6"/><rect x="3642.2" y="1438.5" width="1.6" height="12.3" fill="#a6a6a6"/><rect x="2092.4" y="166" width="19.3" height="19.3" fill="#abd0e8"/><text x="2119.4" y="186.1" font-size="33" fill="#595959" textLength="93" lengthAdjust="spacingAndGlyphs">Males</text><rect x="2092.4" y="225.9" width="19.3" height="19.3" fill="#7f9fd3"/><text x="2119.4" y="246" font-size="33" fill="#595959" textLength="197" lengthAdjust="spacingAndGlyphs">Male surplus</text><rect x="2092.4" y="285.7" width="19.3" height="19.3" fill="#efd3d6"/><text x="2119.4" y="305.8" font-size="33" fill="#595959" textLength="125.5" lengthAdjust="spacingAndGlyphs">Females</text><rect x="2092.4" y="345.6" width="19.3" height="19.3" fill="#e07a78"/><text x="2119.4" y="365.7" font-size="33" fill="#595959" textLength="229" lengthAdjust="spacingAndGlyphs">Female surplus</text><text x="2020.5" y="1442.7" font-size="35" text-anchor="end">0</text><text x="2020.5" y="1311.9" font-size="35" text-anchor="end" textLength="35.6" lengthAdjust="spacingAndGlyphs">10</text><text x="2020.5" y="1181.1" font-size="35" text-anchor="end" textLength="35.6" lengthAdjust="spacingAndGlyphs">20</text><text x="2020.5" y="1050.3" font-size="35" text-anchor="end" textLength="35.6" lengthAdjust="spacingAndGlyphs">30</text><text x="2020.5" y="919.5" font-size="35" text-anchor="end" textLength="35.6" lengthAdjust="spacingAndGlyphs">40</text><text x="2020.5" y="788.7" font-size="35" text-anchor="end" textLength="35.6" lengthAdjust="spacingAndGlyphs">50</text><text x="2020.5" y="657.9" font-size="35" text-anchor="end" textLength="35.6" lengthAdjust="spacingAndGlyphs">60</text><text x="2020.5" y="527.1" font-size="35" text-anchor="end" textLength="35.6" lengthAdjust="spacingAndGlyphs">70</text><text x="2020.5" y="396.3" font-size="35" text-anchor="end" textLength="35.6" lengthAdjust="spacingAndGlyphs">80</text><text x="2020.5" y="265.5" font-size="35" text-anchor="end" textLength="35.6" lengthAdjust="spacingAndGlyphs">90</text><text x="2020.5" y="134.7" font-size="35" text-anchor="end" textLength="74" lengthAdjust="spacingAndGlyphs">100+</text><text x="2055.4" y="1496.9" font-size="31" text-anchor="middle" textLength="138" lengthAdjust="spacingAndGlyphs">1500 000</text><text x="2320" y="1496.9" font-size="31" text-anchor="middle" textLength="137.5" lengthAdjust="spacingAndGlyphs">1000 000</text><text x="2584.6" y="1496.9" font-size="31" text-anchor="middle" textLength="119.5" lengthAdjust="spacingAndGlyphs">500 000</text><text x="2852.7" y="1496.9" font-size="31" text-anchor="middle" textLength="19.5" lengthAdjust="spacingAndGlyphs">0</text><text x="3113.8" y="1496.9" font-size="31" text-anchor="middle" textLength="119.5" lengthAdjust="spacingAndGlyphs">500 000</text><text x="3378.4" y="1496.9" font-size="31" text-anchor="middle" textLength="137.5" lengthAdjust="spacingAndGlyphs">1000 000</text><text x="3643" y="1496.9" font-size="31" text-anchor="middle" textLength="138" lengthAdjust="spacingAndGlyphs">1500 000</text><text x="2850.4" y="1555.9" font-size="40" text-anchor="middle" textLength="191" lengthAdjust="spacingAndGlyphs">Population</text><text x="2854.6" y="50.3" font-size="55.5" text-anchor="middle" textLength="154" lengthAdjust="spacingAndGlyphs">Russia</text><text x="2855.2" y="100" font-size="31" text-anchor="middle" textLength="263.5" lengthAdjust="spacingAndGlyphs">1st of January 2023</text><g opacity="0.9"><polygon points="3721.9,-6.8 3745.8,-6.8 3745.8,18.5 3738.7,18.5 3738.7,4.2 3717.1,25.8 3730.2,25.8 3730.2,32.9 3706.5,32.9 3706.5,7.9 3713.1,7.9 3713.1,19.8 3732.9,0.1 3721.9,0.1" transform="translate(0,1.2)" fill="#999" stroke="#999" stroke-width="1.2" stroke-linejoin="round"/><polygon points="3721.9,-6.8 3745.8,-6.8 3745.8,18.5 3738.7,18.5 3738.7,4.2 3717.1,25.8 3730.2,25.8 3730.2,32.9 3706.5,32.9 3706.5,7.9 3713.1,7.9 3713.1,19.8 3732.9,0.1 3721.9,0.1" fill="#fff" stroke="#8e8e8e" stroke-width="1.1" stroke-linejoin="round"/></g><text x="3283.9" y="25.5" font-size="24" fill="#333" textLength="481" lengthAdjust="spacingAndGlyphs">Source: Rosstat - Federal State Statistics Service</text><text x="3283.9" y="55.6" font-size="24" fill="#333" textLength="211.3" lengthAdjust="spacingAndGlyphs">Chart by: Kaj Tallungs</text></g><rect x="1951.6" y="0" width="2.2" height="1582" fill="#dcdcdc"/><rect x="1953.8" y="0" width="2.2" height="1582" fill="#f5f5f5"/><rect x="1956" y="0" width="20.7" height="1582" fill="#c0c0c0"/><rect x="1976.7" y="0" width="1.3" height="1582" fill="#eeeeee"/><rect x="1978" y="0" width="1.7" height="1582" fill="#a8a8a8"/><polygon points="1895.7,2.3 1919.6,2.3 1919.6,27.6 1912.5,27.6 1912.5,13.3 1890.9,34.9 1904,34.9 1904,42 1880.3,42 1880.3,17 1886.9,17 1886.9,28.9 1906.7,9.2 1895.7,9.2" transform="translate(0,1.2)" fill="#999" stroke="#999" stroke-width="1.2" stroke-linejoin="round"/><polygon points="1895.7,2.3 1919.6,2.3 1919.6,27.6 1912.5,27.6 1912.5,13.3 1890.9,34.9 1904,34.9 1904,42 1880.3,42 1880.3,17 1886.9,17 1886.9,28.9 1906.7,9.2 1895.7,9.2" fill="#fff" stroke="#8e8e8e" stroke-width="1.1" stroke-linejoin="round"/><polygon points="1890.5,77 1891,72 1899.8,72 1900.3,77 1903.2,78.2 1907.1,75 1913.3,81.2 1910.1,85.1 1911.3,88 1916.3,88.5 1916.3,97.3 1911.3,97.8 1910.1,100.7 1913.3,104.6 1907.1,110.8 1903.2,107.6 1900.3,108.8 1899.8,113.8 1891,113.8 1890.5,108.8 1887.6,107.6 1883.7,110.8 1877.5,104.6 1880.7,100.7 1879.5,97.8 1874.5,97.3 1874.5,88.5 1879.5,88 1880.7,85.1 1877.5,81.2 1883.7,75 1887.6,78.2" transform="translate(0,1)" fill="#999" stroke="#999" stroke-width="1.2" stroke-linejoin="round"/><polygon points="1890.5,77 1891,72 1899.8,72 1900.3,77 1903.2,78.2 1907.1,75 1913.3,81.2 1910.1,85.1 1911.3,88 1916.3,88.5 1916.3,97.3 1911.3,97.8 1910.1,100.7 1913.3,104.6 1907.1,110.8 1903.2,107.6 1900.3,108.8 1899.8,113.8 1891,113.8 1890.5,108.8 1887.6,107.6 1883.7,110.8 1877.5,104.6 1880.7,100.7 1879.5,97.8 1874.5,97.3 1874.5,88.5 1879.5,88 1880.7,85.1 1877.5,81.2 1883.7,75 1887.6,78.2" fill="#fff" stroke="#8e8e8e" stroke-width="1.1" stroke-linejoin="round"/><circle cx="1895.4" cy="92.9" r="6.9" fill="none" stroke="#8e8e8e" stroke-width="1.3"/><polygon points="1882.7,752.4 1919.5,789.2 1882.7,826.5 1873.5,816.7 1901.1,788.8 1873.5,761.6" transform="translate(0,1.6)" fill="#9a9a9a" stroke="#9a9a9a" stroke-width="1.2"/><polygon points="1882.7,752.4 1919.5,789.2 1882.7,826.5 1873.5,816.7 1901.1,788.8 1873.5,761.6" fill="#fff" stroke="#a0a0a0" stroke-width="1" stroke-linejoin="miter"/><polygon points="67.6,753.3 33.1,788.8 67.6,826.5 77.2,816.7 49.3,788.8 77.2,762" transform="translate(0,1.6)" fill="#9a9a9a" stroke="#9a9a9a" stroke-width="1.2"/><polygon points="67.6,753.3 33.1,788.8 67.6,826.5 77.2,816.7 49.3,788.8 77.2,762" fill="#fff" stroke="#a0a0a0" stroke-width="1" stroke-linejoin="miter"/><polygon points="1889.4,1532.5 1897.8,1532.5 1897.8,1550.3 1906.3,1550.3 1892.7,1565.8 1880,1550.3 1889.4,1550.3" transform="translate(0,1.2)" fill="#999" stroke="#999" stroke-width="1.2"/><rect x="1878.1" y="1567.5" width="30.8" height="6.5" fill="#999" stroke="#999" stroke-width="1.2"/><polygon points="1889.4,1532.5 1897.8,1532.5 1897.8,1550.3 1906.3,1550.3 1892.7,1565.8 1880,1550.3 1889.4,1550.3" fill="#fff" stroke="#8e8e8e" stroke-width="1.1" stroke-linejoin="miter"/><rect x="1878.1" y="1566.3" width="30.8" height="6.5" fill="#fff" stroke="#8e8e8e" stroke-width="1.1"/><polygon points="3716.4,68 3716.9,63 3725.7,63 3726.2,68 3729.1,69.2 3733,66 3739.2,72.2 3736,76.1 3737.2,79 3742.2,79.5 3742.2,88.3 3737.2,88.8 3736,91.7 3739.2,95.6 3733,101.8 3729.1,98.6 3726.2,99.8 3725.7,104.8 3716.9,104.8 3716.4,99.8 3713.5,98.6 3709.6,101.8 3703.4,95.6 3706.6,91.7 3705.4,88.8 3700.4,88.3 3700.4,79.5 3705.4,79 3706.6,76.1 3703.4,72.2 3709.6,66 3713.5,69.2" transform="translate(0,1)" fill="#999" stroke="#999" stroke-width="1.2" stroke-linejoin="round"/><polygon points="3716.4,68 3716.9,63 3725.7,63 3726.2,68 3729.1,69.2 3733,66 3739.2,72.2 3736,76.1 3737.2,79 3742.2,79.5 3742.2,88.3 3737.2,88.8 3736,91.7 3739.2,95.6 3733,101.8 3729.1,98.6 3726.2,99.8 3725.7,104.8 3716.9,104.8 3716.4,99.8 3713.5,98.6 3709.6,101.8 3703.4,95.6 3706.6,91.7 3705.4,88.8 3700.4,88.3 3700.4,79.5 3705.4,79 3706.6,76.1 3703.4,72.2 3709.6,66 3713.5,69.2" fill="#fff" stroke="#8e8e8e" stroke-width="1.1" stroke-linejoin="round"/><circle cx="3721.3" cy="83.9" r="6.9" fill="none" stroke="#8e8e8e" stroke-width="1.3"/><polygon points="3708.8,747.1 3745.2,783.5 3708.8,821.6 3699.1,811.9 3727,783.5 3699.1,756.8" transform="translate(0,1.6)" fill="#9a9a9a" stroke="#9a9a9a" stroke-width="1.2"/><polygon points="3708.8,747.1 3745.2,783.5 3708.8,821.6 3699.1,811.9 3727,783.5 3699.1,756.8" fill="#fff" stroke="#a0a0a0" stroke-width="1" stroke-linejoin="miter"/><polygon points="3715.5,1532.5 3723.9,1532.5 3723.9,1550.3 3732.4,1550.3 3718.8,1565.8 3706.1,1550.3 3715.5,1550.3" transform="translate(0,1.2)" fill="#999" stroke="#999" stroke-width="1.2"/><rect x="3704.2" y="1567.5" width="30.8" height="6.5" fill="#999" stroke="#999" stroke-width="1.2"/><polygon points="3715.5,1532.5 3723.9,1532.5 3723.9,1550.3 3732.4,1550.3 3718.8,1565.8 3706.1,1550.3 3715.5,1550.3" fill="#fff" stroke="#8e8e8e" stroke-width="1.1" stroke-linejoin="miter"/><rect x="3704.2" y="1566.3" width="30.8" height="6.5" fill="#fff" stroke="#8e8e8e" stroke-width="1.1"/></svg>
</body></html>
